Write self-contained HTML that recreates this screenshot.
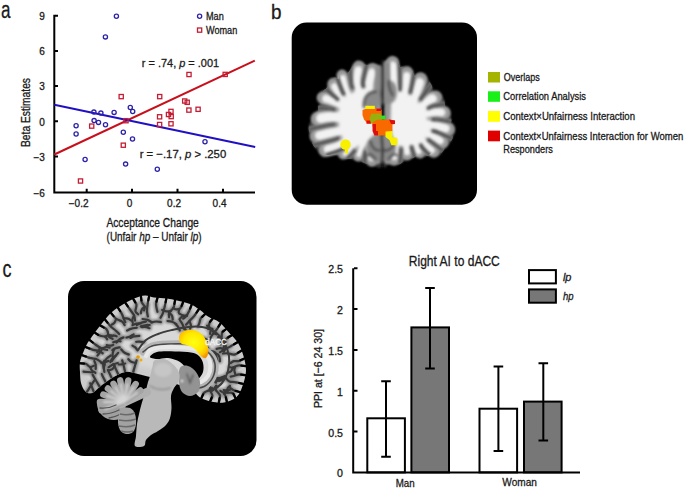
<!DOCTYPE html>
<html><head><meta charset="utf-8">
<style>
html,body{margin:0;padding:0;background:#fff;}
svg{display:block;}
text{font-family:"Liberation Sans",sans-serif;fill:#1a1a1a;stroke:#1a1a1a;stroke-width:0.3px;}
</style></head>
<body>
<svg width="685" height="489" viewBox="0 0 685 489">
<defs>
<filter id="bl1" x="-10%" y="-10%" width="120%" height="120%"><feGaussianBlur stdDeviation="0.8"/></filter>
<filter id="bl3" x="-20%" y="-20%" width="140%" height="140%"><feGaussianBlur stdDeviation="3"/></filter>
<filter id="bl15" x="-20%" y="-20%" width="140%" height="140%"><feGaussianBlur stdDeviation="1.6"/></filter>
<filter id="wm" x="-20%" y="-20%" width="140%" height="140%"><feMorphology operator="erode" radius="5"/><feGaussianBlur stdDeviation="1.8"/></filter>
<filter id="bl07" x="-20%" y="-20%" width="140%" height="140%"><feGaussianBlur stdDeviation="0.6"/></filter>
<filter id="bl04" x="-20%" y="-20%" width="140%" height="140%"><feGaussianBlur stdDeviation="0.45"/></filter>
<filter id="wmC" x="-20%" y="-20%" width="140%" height="140%"><feMorphology operator="erode" radius="7"/><feGaussianBlur stdDeviation="2.5"/></filter>
<filter id="bl2" x="-10%" y="-10%" width="120%" height="120%"><feGaussianBlur stdDeviation="1.5"/></filter>
</defs>
<rect width="685" height="489" fill="#fff"/>

<!-- ============ PANEL A ============ -->
<text x="1" y="18" font-size="23" textLength="9.5" lengthAdjust="spacingAndGlyphs">a</text>
<!-- axes -->
<g stroke="#000" stroke-width="2" fill="none">
<path d="M54.3 14.7 V192.5 H255"/>
<path d="M55 15.7 H58 M55 50.9 H58 M55 86.1 H58 M55 121.3 H58 M55 156.6 H58"/>
<path d="M86.7 192 V188.8 M132 192 V188.8 M177.5 192 V188.8 M223 192 V188.8"/>
</g>
<g font-size="10">
<text x="44.8" y="19.8" text-anchor="end">9</text>
<text x="44.8" y="54.9" text-anchor="end">6</text>
<text x="44.8" y="90.2" text-anchor="end">3</text>
<text x="44.8" y="125.5" text-anchor="end">0</text>
<text x="44.8" y="161" text-anchor="end">−3</text>
<text x="44.8" y="196.5" text-anchor="end">−6</text>
<text x="88.5" y="207.2" text-anchor="end">−0.2</text>
<text x="132.4" y="207.2" text-anchor="end">0</text>
<text x="181" y="207.2" text-anchor="end">0.2</text>
<text x="226.5" y="207.2" text-anchor="end">0.4</text>
</g>
<text x="106.4" y="227.3" font-size="12.2" textLength="92.4" lengthAdjust="spacingAndGlyphs">Acceptance Change</text>
<text x="106.6" y="241.3" font-size="12.2" textLength="95" lengthAdjust="spacingAndGlyphs">(Unfair <tspan font-style="italic">hp</tspan> – Unfair <tspan font-style="italic">lp</tspan>)</text>
<text transform="translate(30.3,147) rotate(-90)" font-size="12.2" textLength="69" lengthAdjust="spacingAndGlyphs">Beta Estimates</text>

<!-- fit lines -->
<line x1="54.3" y1="154.5" x2="254.8" y2="60.6" stroke="#c8101c" stroke-width="2"/>
<line x1="54.3" y1="104.8" x2="255.2" y2="147" stroke="#2010c4" stroke-width="2"/>

<!-- markers -->
<g fill="none" stroke="#2c22a8" stroke-width="1.3">
<circle cx="116.4" cy="16.2" r="2.1"/><circle cx="105.4" cy="36.9" r="2.1"/>
<circle cx="93.9" cy="112.1" r="2.1"/><circle cx="100.9" cy="113.1" r="2.1"/>
<circle cx="114.1" cy="112.4" r="2.1"/><circle cx="94.1" cy="120.6" r="2.1"/>
<circle cx="98.5" cy="122.4" r="2.1"/><circle cx="105.5" cy="124.8" r="2.1"/>
<circle cx="76.1" cy="125.7" r="2.1"/><circle cx="76.1" cy="134" r="2.1"/>
<circle cx="85.1" cy="159.5" r="2.1"/><circle cx="130.3" cy="107.5" r="2.1"/>
<circle cx="132.7" cy="111.5" r="2.1"/><circle cx="123.3" cy="132.2" r="2.1"/>
<circle cx="132.5" cy="139" r="2.1"/><circle cx="125.6" cy="164.1" r="2.1"/>
<circle cx="157.3" cy="169.2" r="2.1"/><circle cx="205" cy="141.7" r="2.1"/>
</g>
<g fill="none" stroke="#c41e34" stroke-width="1.3">
<rect x="119.1" y="94.5" width="4.2" height="4.2"/><rect x="157.6" y="94.5" width="4.2" height="4.2"/>
<rect x="123.9" y="118.6" width="4.2" height="4.2"/><rect x="157.5" y="114.7" width="4.2" height="4.2"/>
<rect x="157.5" y="122.4" width="4.2" height="4.2"/><rect x="166.4" y="112.4" width="4.2" height="4.2"/>
<rect x="168.9" y="109.3" width="4.2" height="4.2"/><rect x="169.1" y="114.5" width="4.2" height="4.2"/>
<rect x="168.9" y="121.7" width="4.2" height="4.2"/><rect x="182.6" y="98.9" width="4.2" height="4.2"/>
<rect x="185.1" y="100.2" width="4.2" height="4.2"/><rect x="186.8" y="108" width="4.2" height="4.2"/>
<rect x="196" y="107.2" width="4.2" height="4.2"/><rect x="186.9" y="72.4" width="4.2" height="4.2"/>
<rect x="223.1" y="72.3" width="4.2" height="4.2"/><rect x="89.6" y="124" width="4.2" height="4.2"/>
<rect x="121.2" y="143.1" width="4.2" height="4.2"/><rect x="78.4" y="178.9" width="4.2" height="4.2"/>
</g>
<!-- annotations -->
<text x="141.8" y="66.5" font-size="11.6" textLength="77.3" lengthAdjust="spacingAndGlyphs">r = .74, <tspan font-style="italic">p</tspan> = .001</text>
<text x="139.7" y="158.2" font-size="11.6" textLength="86.5" lengthAdjust="spacingAndGlyphs">r = −.17, <tspan font-style="italic">p</tspan> &gt; .250</text>
<!-- legend -->
<circle cx="199.6" cy="16.3" r="2.1" fill="none" stroke="#2c22a8" stroke-width="1.3"/>
<rect x="197.5" y="28" width="4.2" height="4.2" fill="none" stroke="#c41e34" stroke-width="1.3"/>
<text x="206" y="20.4" font-size="10.4" textLength="17.8" lengthAdjust="spacingAndGlyphs">Man</text>
<text x="206" y="34.2" font-size="10.4" textLength="31.2" lengthAdjust="spacingAndGlyphs">Woman</text>

<!-- ============ PANEL B ============ -->
<text x="271" y="19" font-size="21" textLength="10.5" lengthAdjust="spacingAndGlyphs">b</text>
<rect x="291.7" y="22.5" width="185.3" height="182.2" rx="15" fill="#000"/>
<g id="brainB"><g filter="url(#bl1)">
<path d="M381.3 68.0 C381.0 62.3 380.4 66.4 379.4 65.8 C378.3 65.2 376.6 64.5 375.0 64.3 C373.4 64.1 371.4 64.5 370.0 64.6 C368.6 64.7 367.6 65.4 366.3 65.1 C365.0 64.8 363.2 63.1 362.0 62.5 C360.8 61.9 360.3 61.5 359.3 61.6 C358.3 61.8 357.0 62.5 355.8 63.4 C354.6 64.3 353.0 65.8 352.0 67.0 C351.0 68.2 350.5 69.8 349.6 70.8 C348.7 71.8 347.6 73.0 346.6 73.0 C345.6 73.0 344.4 71.4 343.5 71.0 C342.6 70.6 341.8 70.1 341.0 70.5 C340.2 70.9 339.4 72.1 339.0 73.5 C338.6 74.9 339.3 78.3 338.6 79.0 C337.9 79.7 336.1 77.6 335.0 77.5 C333.9 77.4 333.0 77.8 332.0 78.5 C331.0 79.2 329.9 80.4 329.0 82.0 C328.1 83.6 327.7 86.5 326.6 88.0 C325.5 89.5 324.0 89.7 322.6 90.7 C321.2 91.7 319.3 92.9 318.5 94.0 C317.7 95.1 317.3 95.9 317.7 97.3 C318.1 98.7 320.5 100.7 320.6 102.2 C320.7 103.7 318.5 104.9 318.1 106.3 C317.7 107.7 318.7 108.9 318.1 110.4 C317.5 111.9 315.6 113.5 314.5 115.3 C313.4 117.1 312.1 119.2 311.2 121.0 C310.2 122.8 309.1 123.8 308.8 126.0 C308.5 128.2 308.7 130.7 309.5 134.0 C310.3 137.3 311.7 142.6 313.5 145.7 C315.3 148.8 318.4 151.1 320.5 152.7 C322.6 154.2 323.9 154.6 326.4 155.0 C328.9 155.4 332.4 154.4 335.7 155.0 C339.0 155.6 342.9 157.7 346.2 158.5 C349.5 159.3 352.5 158.9 355.6 159.7 C358.7 160.5 361.6 162.1 364.9 163.2 C368.2 164.3 372.6 166.1 375.4 166.5 C378.2 166.9 380.5 169.9 381.5 165.5 C382.5 161.1 381.6 150.9 381.5 140.0 C381.4 129.1 381.2 112.0 381.2 100.0 C381.2 88.0 381.6 73.7 381.3 68.0Z" fill="#3a3a3a"/>
<path d="M384.7 69.5 C384.9 63.3 385.4 64.8 386.0 63.0 C386.6 61.2 387.1 60.0 388.2 59.0 C389.3 58.0 391.2 56.9 392.6 56.8 C394.0 56.7 395.6 57.9 396.5 58.5 C397.4 59.1 397.3 59.1 397.9 60.5 C398.5 61.9 399.0 65.7 399.9 66.7 C400.8 67.7 401.8 66.4 403.0 66.5 C404.2 66.6 405.8 66.5 407.3 67.3 C408.8 68.0 411.0 69.4 412.2 71.0 C413.4 72.6 413.8 76.5 414.6 77.0 C415.4 77.5 415.9 74.7 417.0 74.0 C418.1 73.3 419.7 72.1 421.4 72.8 C423.1 73.5 425.3 76.1 427.0 78.3 C428.7 80.5 430.6 83.2 431.8 85.7 C433.0 88.2 433.1 91.8 434.3 93.0 C435.5 94.2 437.6 92.0 439.2 93.0 C440.8 94.0 443.0 97.0 444.0 99.2 C445.0 101.5 444.5 104.7 445.3 106.5 C446.1 108.3 448.0 108.0 449.0 110.2 C450.0 112.4 451.3 117.6 451.5 119.8 C451.7 122.0 449.9 121.7 450.3 123.5 C450.7 125.3 453.8 128.0 454.0 130.9 C454.2 133.8 452.7 138.2 451.5 140.7 C450.3 143.1 448.2 143.5 446.6 145.6 C445.0 147.7 443.3 151.4 441.7 153.0 C440.1 154.6 438.2 155.6 436.8 155.4 C435.4 155.2 434.5 151.7 433.1 151.7 C431.7 151.7 430.1 154.6 428.2 155.4 C426.3 156.2 423.8 156.7 422.0 156.6 C420.2 156.5 418.6 154.6 417.2 154.8 C415.8 155.0 415.1 157.2 413.5 157.9 C411.9 158.6 409.6 158.1 407.4 159.1 C405.1 160.1 402.3 163.1 400.0 164.0 C397.7 164.9 395.5 164.3 393.5 164.5 C391.5 164.7 389.7 164.9 388.0 165.0 C386.3 165.1 384.2 170.8 383.5 165.0 C382.8 159.2 383.6 140.8 383.8 130.0 C384.0 119.2 384.4 110.1 384.5 100.0 C384.6 89.9 384.4 75.7 384.7 69.5Z" fill="#3a3a3a"/>
</g>
<g filter="url(#bl1)" fill="#969696" stroke="#969696" stroke-linecap="round" stroke-linejoin="round">
<path d="M370.0 92.0 C368.0 88.7 363.7 89.0 360.0 90.0 C356.3 91.0 351.3 94.7 348.0 98.0 C344.7 101.3 341.3 105.5 340.0 110.0 C338.7 114.5 339.3 120.3 340.0 125.0 C340.7 129.7 341.3 134.8 344.0 138.0 C346.7 141.2 351.7 143.0 356.0 144.0 C360.3 145.0 367.0 146.3 370.0 144.0 C373.0 141.7 373.7 135.7 374.0 130.0 C374.3 124.3 372.7 116.3 372.0 110.0 C371.3 103.7 372.0 95.3 370.0 92.0Z" stroke-width="8"/>
<path d="M392.0 84.0 C393.7 81.5 398.3 87.3 402.0 90.0 C405.7 92.7 410.3 96.3 414.0 100.0 C417.7 103.7 422.0 107.7 424.0 112.0 C426.0 116.3 426.0 121.7 426.0 126.0 C426.0 130.3 426.3 135.0 424.0 138.0 C421.7 141.0 416.3 143.0 412.0 144.0 C407.7 145.0 401.3 146.3 398.0 144.0 C394.7 141.7 393.0 136.5 392.0 130.0 C391.0 123.5 392.0 112.7 392.0 105.0 C392.0 97.3 390.3 86.5 392.0 84.0Z" stroke-width="8"/>
<path d="M368.0 98.0 C368.2 95.3 368.2 86.7 369.0 82.0 C369.8 77.3 372.1 72.1 372.7 70.1" fill="none" stroke-width="14"/>
<path d="M360.0 95.0 C359.5 92.5 357.2 84.6 357.0 80.0 C356.8 75.4 358.5 69.3 358.8 67.1" fill="none" stroke-width="13"/>
<path d="M350.0 100.0 C349.2 97.7 346.3 90.2 345.0 86.0 C343.7 81.8 342.5 76.9 342.0 75.1" fill="none" stroke-width="11"/>
<path d="M345.0 104.0 C343.8 102.2 339.9 96.4 338.0 93.0 C336.1 89.6 334.2 85.4 333.4 83.9" fill="none" stroke-width="12"/>
<path d="M342.0 105.0 C340.2 104.2 334.1 101.2 331.0 100.0 C327.9 98.8 324.5 98.2 323.2 97.9" fill="none" stroke-width="13"/>
<path d="M343.0 117.0 C340.5 117.0 332.1 116.7 328.0 117.0 C323.9 117.3 319.8 118.5 318.1 118.8" fill="none" stroke-width="15"/>
<path d="M345.0 130.0 C342.5 130.5 334.7 132.0 330.0 133.0 C325.3 134.0 318.8 135.6 316.6 136.2" fill="none" stroke-width="14"/>
<path d="M350.0 140.0 C347.7 141.2 340.1 145.3 336.0 147.0 C331.9 148.7 327.1 149.6 325.3 150.1" fill="none" stroke-width="14"/>
<path d="M355.0 145.0 C353.5 146.3 348.0 151.4 346.0 153.0 C344.0 154.6 343.5 154.2 343.1 154.5" fill="none" stroke-width="10"/>
<path d="M362.0 146.0 C361.5 147.3 359.7 152.3 359.0 154.0 C358.3 155.7 358.2 156.0 358.1 156.4" fill="none" stroke-width="10"/>
<path d="M370.0 146.0 C370.2 147.5 370.7 152.5 371.0 155.0 C371.3 157.5 371.7 160.1 371.9 161.1" fill="none" stroke-width="11"/>
<path d="M396.0 105.0 C395.7 101.2 394.6 89.1 394.0 82.0 C393.4 74.9 392.8 65.8 392.5 62.5" fill="none" stroke-width="13"/>
<path d="M404.0 100.0 C404.3 97.3 405.5 88.5 406.0 84.0 C406.5 79.5 406.8 74.7 406.9 72.8" fill="none" stroke-width="13"/>
<path d="M412.0 105.0 C412.8 102.5 415.6 94.3 417.0 90.0 C418.4 85.7 419.9 81.2 420.5 79.5" fill="none" stroke-width="14"/>
<path d="M418.0 110.0 C420.0 108.3 427.1 102.1 430.0 100.0 C432.9 97.9 434.3 97.8 435.2 97.4" fill="none" stroke-width="14"/>
<path d="M422.0 114.0 C424.3 113.7 432.3 112.2 436.0 112.0 C439.7 111.8 442.9 112.6 444.3 112.8" fill="none" stroke-width="13"/>
<path d="M424.0 124.0 C426.7 124.5 436.0 126.1 440.0 127.0 C444.0 127.9 446.8 128.9 448.2 129.2" fill="none" stroke-width="14"/>
<path d="M424.0 132.0 C426.0 133.0 432.9 136.3 436.0 138.0 C439.1 139.7 441.3 141.5 442.3 142.2" fill="none" stroke-width="13"/>
<path d="M420.0 138.0 C421.3 139.5 425.7 144.7 428.0 147.0 C430.3 149.3 432.8 151.0 433.8 151.8" fill="none" stroke-width="12"/>
<path d="M414.0 140.0 C414.7 141.7 417.0 147.9 418.0 150.0 C419.0 152.1 419.5 152.0 419.8 152.4" fill="none" stroke-width="12"/>
<path d="M406.0 142.0 C406.2 143.5 406.8 148.9 407.0 151.0 C407.2 153.1 407.0 153.8 407.0 154.4" fill="none" stroke-width="12"/>
<path d="M396.0 144.0 C395.8 145.7 395.3 151.3 395.0 154.0 C394.7 156.7 394.2 159.1 394.0 160.1" fill="none" stroke-width="11"/>
<path d="M377.5 70.0 C377.4 75.0 377.1 90.0 377.0 100.0 C376.9 110.0 377.0 120.0 377.0 130.0 C377.0 140.0 377.0 155.0 377.0 160.0" fill="none" stroke-width="8"/>
<path d="M388.0 64.0 C388.1 70.0 388.4 89.0 388.5 100.0 C388.6 111.0 388.6 120.0 388.5 130.0 C388.4 140.0 388.1 155.0 388.0 160.0" fill="none" stroke-width="8"/>
</g>
<g filter="url(#bl15)" fill="#f2f2f2" stroke="#f2f2f2" stroke-linecap="round" stroke-linejoin="round">
<path d="M370.0 92.0 C368.0 88.7 363.7 89.0 360.0 90.0 C356.3 91.0 351.3 94.7 348.0 98.0 C344.7 101.3 341.3 105.5 340.0 110.0 C338.7 114.5 339.3 120.3 340.0 125.0 C340.7 129.7 341.3 134.8 344.0 138.0 C346.7 141.2 351.7 143.0 356.0 144.0 C360.3 145.0 367.0 146.3 370.0 144.0 C373.0 141.7 373.7 135.7 374.0 130.0 C374.3 124.3 372.7 116.3 372.0 110.0 C371.3 103.7 372.0 95.3 370.0 92.0Z" stroke-width="2"/>
<path d="M392.0 84.0 C393.7 81.5 398.3 87.3 402.0 90.0 C405.7 92.7 410.3 96.3 414.0 100.0 C417.7 103.7 422.0 107.7 424.0 112.0 C426.0 116.3 426.0 121.7 426.0 126.0 C426.0 130.3 426.3 135.0 424.0 138.0 C421.7 141.0 416.3 143.0 412.0 144.0 C407.7 145.0 401.3 146.3 398.0 144.0 C394.7 141.7 393.0 136.5 392.0 130.0 C391.0 123.5 392.0 112.7 392.0 105.0 C392.0 97.3 390.3 86.5 392.0 84.0Z" stroke-width="2"/>
<path d="M368.0 98.0 C368.2 95.3 368.4 86.2 369.0 82.0 C369.6 77.8 371.3 74.5 371.8 73.0" fill="none" stroke-width="9.5"/>
<path d="M360.0 95.0 C359.5 92.5 357.3 84.1 357.0 80.0 C356.7 75.9 358.2 71.8 358.4 70.2" fill="none" stroke-width="8.5"/>
<path d="M350.0 100.0 C349.2 97.7 346.2 89.7 345.0 86.0 C343.8 82.3 343.2 79.4 342.8 78.0" fill="none" stroke-width="6.5"/>
<path d="M345.0 104.0 C343.8 102.2 339.7 95.9 338.0 93.0 C336.3 90.1 335.3 87.7 334.8 86.6" fill="none" stroke-width="7.5"/>
<path d="M342.0 105.0 C340.2 104.2 333.6 101.1 331.0 100.0 C328.4 98.9 327.0 98.9 326.2 98.7" fill="none" stroke-width="8.5"/>
<path d="M343.0 117.0 C340.5 117.0 331.6 116.8 328.0 117.0 C324.4 117.2 322.3 118.1 321.1 118.3" fill="none" stroke-width="10.5"/>
<path d="M345.0 130.0 C342.5 130.5 334.2 132.1 330.0 133.0 C325.8 133.9 321.3 135.1 319.5 135.5" fill="none" stroke-width="9.5"/>
<path d="M350.0 140.0 C347.7 141.2 339.6 145.5 336.0 147.0 C332.4 148.5 329.5 148.9 328.2 149.2" fill="none" stroke-width="9.5"/>
<path d="M355.0 145.0 C353.5 146.3 347.5 151.6 346.0 153.0 C344.5 154.4 345.8 153.1 345.8 153.1" fill="none" stroke-width="5.5"/>
<path d="M362.0 146.0 C361.5 147.3 359.5 152.7 359.0 154.0 C358.5 155.3 359.0 154.0 359.0 154.0" fill="none" stroke-width="5.5"/>
<path d="M370.0 146.0 C370.2 147.5 370.8 153.0 371.0 155.0 C371.2 157.0 371.4 157.6 371.4 158.1" fill="none" stroke-width="6.5"/>
<path d="M396.0 105.0 C395.7 101.2 394.5 88.6 394.0 82.0 C393.5 75.4 393.0 68.3 392.8 65.6" fill="none" stroke-width="8.5"/>
<path d="M404.0 100.0 C404.3 97.3 405.6 88.0 406.0 84.0 C406.4 80.0 406.6 77.2 406.7 75.9" fill="none" stroke-width="8.5"/>
<path d="M412.0 105.0 C412.8 102.5 415.7 93.8 417.0 90.0 C418.3 86.2 419.1 83.6 419.5 82.4" fill="none" stroke-width="9.5"/>
<path d="M418.0 110.0 C420.0 108.3 427.6 101.9 430.0 100.0 C432.4 98.1 432.0 99.0 432.4 98.8" fill="none" stroke-width="9.5"/>
<path d="M422.0 114.0 C424.3 113.7 432.8 112.3 436.0 112.0 C439.2 111.7 440.4 112.4 441.3 112.5" fill="none" stroke-width="8.5"/>
<path d="M424.0 124.0 C426.7 124.5 436.5 126.3 440.0 127.0 C443.5 127.7 444.4 128.2 445.2 128.4" fill="none" stroke-width="9.5"/>
<path d="M424.0 132.0 C426.0 133.0 433.4 136.6 436.0 138.0 C438.6 139.4 439.2 140.1 439.8 140.5" fill="none" stroke-width="8.5"/>
<path d="M420.0 138.0 C421.3 139.5 426.1 145.0 428.0 147.0 C429.9 149.0 430.9 149.4 431.4 149.9" fill="none" stroke-width="7.5"/>
<path d="M414.0 140.0 C414.7 141.7 417.3 148.3 418.0 150.0 C418.7 151.7 418.0 150.0 418.0 150.0" fill="none" stroke-width="7.5"/>
<path d="M406.0 142.0 C406.2 143.5 406.8 149.4 407.0 151.0 C407.2 152.6 407.0 151.3 407.0 151.3" fill="none" stroke-width="7.5"/>
<path d="M396.0 144.0 C395.8 145.7 395.3 151.8 395.0 154.0 C394.7 156.2 394.6 156.6 394.5 157.1" fill="none" stroke-width="6.5"/>
</g>
<clipPath id="silB"><path d="M381.3 68.0 C381.0 62.3 380.4 66.4 379.4 65.8 C378.3 65.2 376.6 64.5 375.0 64.3 C373.4 64.1 371.4 64.5 370.0 64.6 C368.6 64.7 367.6 65.4 366.3 65.1 C365.0 64.8 363.2 63.1 362.0 62.5 C360.8 61.9 360.3 61.5 359.3 61.6 C358.3 61.8 357.0 62.5 355.8 63.4 C354.6 64.3 353.0 65.8 352.0 67.0 C351.0 68.2 350.5 69.8 349.6 70.8 C348.7 71.8 347.6 73.0 346.6 73.0 C345.6 73.0 344.4 71.4 343.5 71.0 C342.6 70.6 341.8 70.1 341.0 70.5 C340.2 70.9 339.4 72.1 339.0 73.5 C338.6 74.9 339.3 78.3 338.6 79.0 C337.9 79.7 336.1 77.6 335.0 77.5 C333.9 77.4 333.0 77.8 332.0 78.5 C331.0 79.2 329.9 80.4 329.0 82.0 C328.1 83.6 327.7 86.5 326.6 88.0 C325.5 89.5 324.0 89.7 322.6 90.7 C321.2 91.7 319.3 92.9 318.5 94.0 C317.7 95.1 317.3 95.9 317.7 97.3 C318.1 98.7 320.5 100.7 320.6 102.2 C320.7 103.7 318.5 104.9 318.1 106.3 C317.7 107.7 318.7 108.9 318.1 110.4 C317.5 111.9 315.6 113.5 314.5 115.3 C313.4 117.1 312.1 119.2 311.2 121.0 C310.2 122.8 309.1 123.8 308.8 126.0 C308.5 128.2 308.7 130.7 309.5 134.0 C310.3 137.3 311.7 142.6 313.5 145.7 C315.3 148.8 318.4 151.1 320.5 152.7 C322.6 154.2 323.9 154.6 326.4 155.0 C328.9 155.4 332.4 154.4 335.7 155.0 C339.0 155.6 342.9 157.7 346.2 158.5 C349.5 159.3 352.5 158.9 355.6 159.7 C358.7 160.5 361.6 162.1 364.9 163.2 C368.2 164.3 372.6 166.1 375.4 166.5 C378.2 166.9 380.5 169.9 381.5 165.5 C382.5 161.1 381.6 150.9 381.5 140.0 C381.4 129.1 381.2 112.0 381.2 100.0 C381.2 88.0 381.6 73.7 381.3 68.0Z"/><path d="M384.7 69.5 C384.9 63.3 385.4 64.8 386.0 63.0 C386.6 61.2 387.1 60.0 388.2 59.0 C389.3 58.0 391.2 56.9 392.6 56.8 C394.0 56.7 395.6 57.9 396.5 58.5 C397.4 59.1 397.3 59.1 397.9 60.5 C398.5 61.9 399.0 65.7 399.9 66.7 C400.8 67.7 401.8 66.4 403.0 66.5 C404.2 66.6 405.8 66.5 407.3 67.3 C408.8 68.0 411.0 69.4 412.2 71.0 C413.4 72.6 413.8 76.5 414.6 77.0 C415.4 77.5 415.9 74.7 417.0 74.0 C418.1 73.3 419.7 72.1 421.4 72.8 C423.1 73.5 425.3 76.1 427.0 78.3 C428.7 80.5 430.6 83.2 431.8 85.7 C433.0 88.2 433.1 91.8 434.3 93.0 C435.5 94.2 437.6 92.0 439.2 93.0 C440.8 94.0 443.0 97.0 444.0 99.2 C445.0 101.5 444.5 104.7 445.3 106.5 C446.1 108.3 448.0 108.0 449.0 110.2 C450.0 112.4 451.3 117.6 451.5 119.8 C451.7 122.0 449.9 121.7 450.3 123.5 C450.7 125.3 453.8 128.0 454.0 130.9 C454.2 133.8 452.7 138.2 451.5 140.7 C450.3 143.1 448.2 143.5 446.6 145.6 C445.0 147.7 443.3 151.4 441.7 153.0 C440.1 154.6 438.2 155.6 436.8 155.4 C435.4 155.2 434.5 151.7 433.1 151.7 C431.7 151.7 430.1 154.6 428.2 155.4 C426.3 156.2 423.8 156.7 422.0 156.6 C420.2 156.5 418.6 154.6 417.2 154.8 C415.8 155.0 415.1 157.2 413.5 157.9 C411.9 158.6 409.6 158.1 407.4 159.1 C405.1 160.1 402.3 163.1 400.0 164.0 C397.7 164.9 395.5 164.3 393.5 164.5 C391.5 164.7 389.7 164.9 388.0 165.0 C386.3 165.1 384.2 170.8 383.5 165.0 C382.8 159.2 383.6 140.8 383.8 130.0 C384.0 119.2 384.4 110.1 384.5 100.0 C384.6 89.9 384.4 75.7 384.7 69.5Z"/></clipPath>
<g clip-path="url(#silB)">
<g filter="url(#bl15)" stroke="#969696" stroke-width="4.5" fill="none" stroke-linecap="round">
<path d="M367.8 59.8 C367.0 63.3 363.7 76.6 363.0 81.0 C362.3 85.4 363.3 85.5 363.4 86.4"/>
<path d="M350.1 63.1 C350.2 66.5 350.6 78.8 351.0 83.0 C351.4 87.2 352.2 87.2 352.4 88.1"/>
<path d="M335.0 72.4 C336.1 75.2 340.1 85.9 341.5 89.5 C342.9 93.1 343.2 93.1 343.6 93.9"/>
<path d="M322.7 86.3 C324.6 88.0 332.0 94.3 334.5 96.5 C337.0 98.7 337.1 98.8 337.6 99.3"/>
<path d="M312.1 108.2 C315.0 108.2 325.8 108.3 329.5 108.5 C333.2 108.7 333.3 109.2 334.1 109.4"/>
<path d="M308.0 129.5 C311.5 128.7 324.6 125.8 329.0 125.0 C333.4 124.2 333.4 124.6 334.2 124.5"/>
<path d="M311.9 145.5 C315.4 144.6 328.6 141.2 333.0 140.0 C337.4 138.8 337.2 138.5 338.1 138.2"/>
<path d="M327.2 154.8 C329.5 154.0 338.0 151.2 341.0 150.0 C344.0 148.8 344.4 147.8 345.0 147.4"/>
<path d="M347.0 159.3 C347.9 158.3 351.2 154.9 352.5 153.5 C353.8 152.1 354.2 151.2 354.6 150.7"/>
<path d="M364.4 164.6 C364.5 162.9 364.8 156.7 365.0 154.5 C365.2 152.3 365.3 152.0 365.4 151.5"/>
<path d="M399.7 58.5 C399.8 62.6 400.0 77.8 400.0 83.0 C400.0 88.2 400.0 88.7 400.0 89.8"/>
<path d="M415.5 67.6 C414.8 70.8 412.4 82.9 411.5 87.0 C410.6 91.1 410.5 91.5 410.3 92.4"/>
<path d="M433.0 82.2 C431.4 84.4 425.6 92.1 423.5 95.0 C421.4 97.9 421.0 98.6 420.5 99.4"/>
<path d="M447.5 103.6 C445.1 104.0 436.2 105.2 433.0 106.0 C429.8 106.8 429.2 107.8 428.4 108.1"/>
<path d="M454.5 122.5 C451.8 122.0 441.6 120.0 438.0 119.5 C434.4 119.0 433.6 119.4 432.8 119.3"/>
<path d="M452.8 139.1 C450.3 138.0 441.3 133.9 438.0 132.5 C434.7 131.1 433.9 131.2 433.1 130.9"/>
<path d="M444.3 151.6 C442.2 150.1 434.6 144.5 432.0 142.5 C429.4 140.5 429.1 140.3 428.5 139.9"/>
<path d="M431.7 157.2 C430.2 155.8 424.8 150.5 423.0 148.5 C421.2 146.5 421.2 145.7 420.9 145.2"/>
<path d="M415.4 159.5 C415.0 158.0 413.1 152.6 412.5 150.5 C411.9 148.4 411.8 147.7 411.6 147.2"/>
<path d="M399.9 163.9 C400.1 162.0 400.8 155.0 401.0 152.5 C401.2 150.0 401.0 149.7 401.0 149.2"/>
</g>
<g filter="url(#bl1)" stroke="#444444" stroke-width="2.2" fill="none" stroke-linecap="round">
<path d="M367.8 59.8 C367.0 63.3 363.7 76.6 363.0 81.0 C362.3 85.4 363.3 85.5 363.4 86.4"/>
<path d="M350.1 63.1 C350.2 66.5 350.6 78.8 351.0 83.0 C351.4 87.2 352.2 87.2 352.4 88.1"/>
<path d="M335.0 72.4 C336.1 75.2 340.1 85.9 341.5 89.5 C342.9 93.1 343.2 93.1 343.6 93.9"/>
<path d="M322.7 86.3 C324.6 88.0 332.0 94.3 334.5 96.5 C337.0 98.7 337.1 98.8 337.6 99.3"/>
<path d="M312.1 108.2 C315.0 108.2 325.8 108.3 329.5 108.5 C333.2 108.7 333.3 109.2 334.1 109.4"/>
<path d="M308.0 129.5 C311.5 128.7 324.6 125.8 329.0 125.0 C333.4 124.2 333.4 124.6 334.2 124.5"/>
<path d="M311.9 145.5 C315.4 144.6 328.6 141.2 333.0 140.0 C337.4 138.8 337.2 138.5 338.1 138.2"/>
<path d="M327.2 154.8 C329.5 154.0 338.0 151.2 341.0 150.0 C344.0 148.8 344.4 147.8 345.0 147.4"/>
<path d="M347.0 159.3 C347.9 158.3 351.2 154.9 352.5 153.5 C353.8 152.1 354.2 151.2 354.6 150.7"/>
<path d="M364.4 164.6 C364.5 162.9 364.8 156.7 365.0 154.5 C365.2 152.3 365.3 152.0 365.4 151.5"/>
<path d="M399.7 58.5 C399.8 62.6 400.0 77.8 400.0 83.0 C400.0 88.2 400.0 88.7 400.0 89.8"/>
<path d="M415.5 67.6 C414.8 70.8 412.4 82.9 411.5 87.0 C410.6 91.1 410.5 91.5 410.3 92.4"/>
<path d="M433.0 82.2 C431.4 84.4 425.6 92.1 423.5 95.0 C421.4 97.9 421.0 98.6 420.5 99.4"/>
<path d="M447.5 103.6 C445.1 104.0 436.2 105.2 433.0 106.0 C429.8 106.8 429.2 107.8 428.4 108.1"/>
<path d="M454.5 122.5 C451.8 122.0 441.6 120.0 438.0 119.5 C434.4 119.0 433.6 119.4 432.8 119.3"/>
<path d="M452.8 139.1 C450.3 138.0 441.3 133.9 438.0 132.5 C434.7 131.1 433.9 131.2 433.1 130.9"/>
<path d="M444.3 151.6 C442.2 150.1 434.6 144.5 432.0 142.5 C429.4 140.5 429.1 140.3 428.5 139.9"/>
<path d="M431.7 157.2 C430.2 155.8 424.8 150.5 423.0 148.5 C421.2 146.5 421.2 145.7 420.9 145.2"/>
<path d="M415.4 159.5 C415.0 158.0 413.1 152.6 412.5 150.5 C411.9 148.4 411.8 147.7 411.6 147.2"/>
<path d="M399.9 163.9 C400.1 162.0 400.8 155.0 401.0 152.5 C401.2 150.0 401.0 149.7 401.0 149.2"/>
</g>
</g>
<g filter="url(#bl15)">
<path d="M378.5 66 V104" stroke="#8a8a8a" stroke-width="6" fill="none"/>
<path d="M387 62 V104" stroke="#8a8a8a" stroke-width="6" fill="none"/>
<ellipse cx="372" cy="101" rx="8" ry="9" fill="#8a8a8a"/>
<ellipse cx="391" cy="92" rx="6" ry="11" fill="#8a8a8a"/>
<ellipse cx="381" cy="148" rx="15" ry="14" fill="#8a8a8a"/>
<path d="M364 108 C363 98 368 91 377 92" stroke="#3a3a3a" stroke-width="2.2" fill="none"/>
<path d="M389 80 C388 86 390 90 393 96" stroke="#3a3a3a" stroke-width="2.2" fill="none"/>
<path d="M370 140 C372 148 376 152 380 150 M395 140 C393 148 389 152 384 150 M366 156 C370 152 374 156 376 160 M398 156 C394 152 390 156 388 160" stroke="#3a3a3a" stroke-width="2" fill="none"/>
<path d="M382.5 60 C381.5 70 383.5 80 382 90 C381 96 383 100 382.5 106 M382 130 C381 140 383.5 150 382 160 L382.5 167" stroke="#1a1a1a" stroke-width="2.4" fill="none"/>
</g>
<g filter="url(#bl04)">
<polygon points="362.5,110 366,108.8 377,108.5 381.5,110 382,121 378,123 367,123 364,119.5 362.5,115" fill="#f86a00"/>
<polygon points="366.5,120.5 371,120.5 371,123.8 366.5,123.8" fill="#e01010"/>
<polygon points="376.5,108.6 381,108.6 381,111 376.5,111" fill="#e01010"/>
<polygon points="371.5,113.8 380,113.5 381.8,116 381.8,123.8 371,123.8 369.6,118" fill="#98b010"/>
<rect x="381" y="115.6" width="4.4" height="4" fill="#22e822"/>
<polygon points="372.5,122 378,119.6 389,119.4 395,120.5 395,124 392.4,124.5 392.4,131 388.5,135.5 378,135.5 374,131 372.5,126" fill="#f86a00"/>
<polygon points="372.5,124 376,124 376,131 378,131 378,135.5 374.5,135.5 372.5,131" fill="#e01010"/>
<polygon points="389,119.4 395,120.5 395,124 391,124" fill="#e01010"/>
<polygon points="385.5,131.5 392.4,131 392.4,137.3 397.3,137.8 397.3,145.2 391.5,145.2 389.4,140 385.5,137" fill="#f8f000"/>
<rect x="365.4" y="105.8" width="9.4" height="3.2" fill="#f8f000"/>
<circle cx="345.5" cy="144.5" r="5.2" fill="#f8f000"/>
<rect x="345" y="147" width="3" height="6.5" fill="#f8f000"/>
</g></g><!--/brainB-->
<!-- legend b -->
<rect x="488" y="72" width="12" height="10.5" fill="#a4b400"/>
<rect x="488" y="91.3" width="12" height="10.5" fill="#18f018"/>
<rect x="488" y="111" width="12" height="10.8" fill="#ffff00"/>
<rect x="488" y="130.6" width="12" height="10.7" fill="#e00000"/>
<g font-size="10.8">
<text x="503.7" y="80.8" textLength="36.1" lengthAdjust="spacingAndGlyphs">Overlaps</text>
<text x="503.3" y="100.3" textLength="82.7" lengthAdjust="spacingAndGlyphs">Correlation Analysis</text>
<text x="503.3" y="120.4" textLength="131.7" lengthAdjust="spacingAndGlyphs">Context×Unfairness Interaction</text>
<text x="503.3" y="139.9" textLength="180" lengthAdjust="spacingAndGlyphs">Context×Unfairness Interaction for Women</text>
<text x="503.3" y="152.6" textLength="49.5" lengthAdjust="spacingAndGlyphs">Responders</text>
</g>

<!-- ============ PANEL C ============ -->
<text x="2.5" y="277.3" font-size="23" textLength="9" lengthAdjust="spacingAndGlyphs">c</text>
<rect x="68" y="281" width="188.5" height="175" rx="16" fill="#000"/>
<g id="brainC"><g filter="url(#bl07)">
<path d="M80.0 372.0 C79.8 368.5 79.5 365.2 80.0 362.0 C80.5 358.8 81.8 356.0 83.0 353.0 C84.2 350.0 85.7 346.5 87.0 344.0 C88.3 341.5 89.5 340.2 91.0 338.0 C92.5 335.8 94.0 333.7 96.0 331.0 C98.0 328.3 100.3 325.2 103.0 322.0 C105.7 318.8 108.8 314.8 112.0 312.0 C115.2 309.2 118.3 307.2 122.0 305.0 C125.7 302.8 130.2 300.1 134.0 298.5 C137.8 296.9 141.7 295.7 145.0 295.5 C148.3 295.3 150.3 297.0 154.0 297.5 C157.7 298.0 163.2 298.0 167.0 298.5 C170.8 299.0 173.2 299.6 177.0 300.5 C180.8 301.4 186.2 302.4 190.0 304.0 C193.8 305.6 197.0 307.9 200.0 310.0 C203.0 312.1 204.7 314.4 208.0 316.5 C211.3 318.6 215.9 319.5 219.6 322.4 C223.3 325.3 226.9 330.3 230.0 333.7 C233.1 337.1 235.8 339.3 238.0 343.0 C240.2 346.7 242.2 351.3 243.5 356.0 C244.8 360.7 246.2 366.0 246.0 371.0 C245.8 376.0 244.1 381.7 242.5 386.0 C240.9 390.3 239.6 394.2 236.5 397.0 C233.4 399.8 228.2 401.8 224.0 402.5 C219.8 403.2 215.0 402.3 211.0 401.5 C207.0 400.7 202.8 399.2 200.0 397.5 C197.2 395.8 196.0 393.2 194.0 391.0 C192.0 388.8 190.3 385.0 188.0 384.0 C185.7 383.0 183.8 385.7 180.0 385.0 C176.2 384.3 170.0 381.3 165.0 380.0 C160.0 378.7 154.5 378.0 150.0 377.0 C145.5 376.0 142.2 374.8 138.0 374.0 C133.8 373.2 129.3 371.3 125.0 372.0 C120.7 372.7 115.8 375.8 112.0 378.0 C108.2 380.2 105.3 382.5 102.0 385.0 C98.7 387.5 94.8 392.0 92.0 393.0 C89.2 394.0 86.8 392.7 85.0 391.0 C83.2 389.3 81.8 386.2 81.0 383.0 C80.2 379.8 80.2 375.5 80.0 372.0Z" fill="#cccccc"/>
</g>
<g filter="url(#wmC)">
<path d="M80.0 372.0 C79.8 368.5 79.5 365.2 80.0 362.0 C80.5 358.8 81.8 356.0 83.0 353.0 C84.2 350.0 85.7 346.5 87.0 344.0 C88.3 341.5 89.5 340.2 91.0 338.0 C92.5 335.8 94.0 333.7 96.0 331.0 C98.0 328.3 100.3 325.2 103.0 322.0 C105.7 318.8 108.8 314.8 112.0 312.0 C115.2 309.2 118.3 307.2 122.0 305.0 C125.7 302.8 130.2 300.1 134.0 298.5 C137.8 296.9 141.7 295.7 145.0 295.5 C148.3 295.3 150.3 297.0 154.0 297.5 C157.7 298.0 163.2 298.0 167.0 298.5 C170.8 299.0 173.2 299.6 177.0 300.5 C180.8 301.4 186.2 302.4 190.0 304.0 C193.8 305.6 197.0 307.9 200.0 310.0 C203.0 312.1 204.7 314.4 208.0 316.5 C211.3 318.6 215.9 319.5 219.6 322.4 C223.3 325.3 226.9 330.3 230.0 333.7 C233.1 337.1 235.8 339.3 238.0 343.0 C240.2 346.7 242.2 351.3 243.5 356.0 C244.8 360.7 246.2 366.0 246.0 371.0 C245.8 376.0 244.1 381.7 242.5 386.0 C240.9 390.3 239.6 394.2 236.5 397.0 C233.4 399.8 228.2 401.8 224.0 402.5 C219.8 403.2 215.0 402.3 211.0 401.5 C207.0 400.7 202.8 399.2 200.0 397.5 C197.2 395.8 196.0 393.2 194.0 391.0 C192.0 388.8 190.3 385.0 188.0 384.0 C185.7 383.0 183.8 385.7 180.0 385.0 C176.2 384.3 170.0 381.3 165.0 380.0 C160.0 378.7 154.5 378.0 150.0 377.0 C145.5 376.0 142.2 374.8 138.0 374.0 C133.8 373.2 129.3 371.3 125.0 372.0 C120.7 372.7 115.8 375.8 112.0 378.0 C108.2 380.2 105.3 382.5 102.0 385.0 C98.7 387.5 94.8 392.0 92.0 393.0 C89.2 394.0 86.8 392.7 85.0 391.0 C83.2 389.3 81.8 386.2 81.0 383.0 C80.2 379.8 80.2 375.5 80.0 372.0Z" fill="#d8d8d8"/>
</g>
<clipPath id="silC2"><path d="M80.0 372.0 C79.8 368.5 79.5 365.2 80.0 362.0 C80.5 358.8 81.8 356.0 83.0 353.0 C84.2 350.0 85.7 346.5 87.0 344.0 C88.3 341.5 89.5 340.2 91.0 338.0 C92.5 335.8 94.0 333.7 96.0 331.0 C98.0 328.3 100.3 325.2 103.0 322.0 C105.7 318.8 108.8 314.8 112.0 312.0 C115.2 309.2 118.3 307.2 122.0 305.0 C125.7 302.8 130.2 300.1 134.0 298.5 C137.8 296.9 141.7 295.7 145.0 295.5 C148.3 295.3 150.3 297.0 154.0 297.5 C157.7 298.0 163.2 298.0 167.0 298.5 C170.8 299.0 173.2 299.6 177.0 300.5 C180.8 301.4 186.2 302.4 190.0 304.0 C193.8 305.6 197.0 307.9 200.0 310.0 C203.0 312.1 204.7 314.4 208.0 316.5 C211.3 318.6 215.9 319.5 219.6 322.4 C223.3 325.3 226.9 330.3 230.0 333.7 C233.1 337.1 235.8 339.3 238.0 343.0 C240.2 346.7 242.2 351.3 243.5 356.0 C244.8 360.7 246.2 366.0 246.0 371.0 C245.8 376.0 244.1 381.7 242.5 386.0 C240.9 390.3 239.6 394.2 236.5 397.0 C233.4 399.8 228.2 401.8 224.0 402.5 C219.8 403.2 215.0 402.3 211.0 401.5 C207.0 400.7 202.8 399.2 200.0 397.5 C197.2 395.8 196.0 393.2 194.0 391.0 C192.0 388.8 190.3 385.0 188.0 384.0 C185.7 383.0 183.8 385.7 180.0 385.0 C176.2 384.3 170.0 381.3 165.0 380.0 C160.0 378.7 154.5 378.0 150.0 377.0 C145.5 376.0 142.2 374.8 138.0 374.0 C133.8 373.2 129.3 371.3 125.0 372.0 C120.7 372.7 115.8 375.8 112.0 378.0 C108.2 380.2 105.3 382.5 102.0 385.0 C98.7 387.5 94.8 392.0 92.0 393.0 C89.2 394.0 86.8 392.7 85.0 391.0 C83.2 389.3 81.8 386.2 81.0 383.0 C80.2 379.8 80.2 375.5 80.0 372.0Z"/></clipPath>
<g clip-path="url(#silC2)"><g filter="url(#bl1)" stroke="#8c8c8c" stroke-width="5" fill="none" stroke-linecap="round" stroke-linejoin="round">
<path d="M85.6 363.8 C86.4 364.3 88.7 366.7 90.1 367.0 C91.5 367.3 93.2 366.0 93.8 365.8"/>
<path d="M90.1 367.0 C90.4 367.6 91.2 369.8 92.1 370.8 C93.0 371.8 94.8 372.4 95.4 372.8"/>
<path d="M104.4 371.9 C104.3 371.3 103.8 369.2 103.9 367.9 C104.0 366.6 104.7 364.7 104.9 364.0"/>
<path d="M89.8 357.9 C91.0 358.1 94.9 358.5 96.7 359.3 C98.6 360.0 100.3 361.7 101.0 362.2"/>
<path d="M108.6 367.2 C109.3 366.8 111.0 365.5 112.5 364.8 C114.0 364.1 116.9 363.3 117.8 363.0"/>
<path d="M103.7 368.3 C103.6 367.6 103.1 365.6 103.2 364.4 C103.3 363.1 104.1 361.5 104.2 360.9"/>
<path d="M92.4 349.6 C93.5 349.8 97.1 350.3 98.8 350.9 C100.5 351.5 102.0 352.9 102.7 353.3"/>
<path d="M97.2 352.3 C97.5 352.0 98.7 351.0 99.1 350.2 C99.5 349.4 99.5 347.9 99.6 347.5"/>
<path d="M110.3 362.0 C110.6 361.4 111.5 359.4 112.5 358.3 C113.5 357.3 115.5 355.9 116.1 355.4"/>
<path d="M104.5 361.6 C104.9 361.0 105.9 359.2 107.0 358.2 C108.0 357.2 110.1 356.0 110.8 355.5"/>
<path d="M96.0 345.0 C97.0 345.6 100.1 347.8 102.0 348.6 C103.8 349.5 106.2 349.7 107.1 349.9"/>
<path d="M102.0 348.6 C102.6 348.4 104.6 347.2 105.9 347.0 C107.2 346.9 109.1 347.5 109.7 347.6"/>
<path d="M112.6 356.4 C112.6 355.7 112.6 353.5 112.9 352.2 C113.2 351.0 114.2 349.5 114.5 348.9"/>
<path d="M99.6 335.6 C100.5 335.8 103.7 336.0 105.0 336.6 C106.2 337.2 106.9 338.9 107.2 339.4"/>
<path d="M105.0 336.6 C105.6 336.4 107.7 335.3 109.0 335.2 C110.3 335.2 112.1 335.9 112.7 336.1"/>
<path d="M112.3 350.1 C112.8 349.8 114.1 348.7 115.4 348.3 C116.6 347.8 119.0 347.5 119.7 347.4"/>
<path d="M106.5 329.2 C106.9 330.4 107.8 334.8 108.8 336.4 C109.9 338.1 112.0 338.5 112.6 338.9"/>
<path d="M108.8 336.4 C109.5 336.2 111.7 335.3 113.0 335.3 C114.3 335.2 116.0 336.1 116.6 336.3"/>
<path d="M113.3 342.3 C113.8 342.1 115.1 341.5 116.4 341.3 C117.6 341.1 119.9 341.3 120.6 341.3"/>
<path d="M110.3 325.9 C111.2 326.7 114.1 329.1 115.6 330.5 C117.1 331.8 118.6 333.4 119.2 334.0"/>
<path d="M111.7 324.6 C112.2 324.3 113.7 323.5 114.4 322.7 C115.1 321.9 115.6 320.3 115.8 319.8"/>
<path d="M115.7 318.5 C116.7 319.0 120.4 320.3 121.9 321.4 C123.4 322.4 124.2 324.4 124.6 325.0"/>
<path d="M130.3 337.9 C131.0 337.6 132.8 336.7 134.3 336.3 C135.8 336.0 138.4 335.9 139.3 335.9"/>
<path d="M121.5 313.2 C121.8 314.1 123.0 317.0 123.7 318.5 C124.3 320.0 125.0 321.6 125.3 322.2"/>
<path d="M123.7 318.5 C124.4 318.5 126.7 318.2 128.0 318.6 C129.2 318.9 130.6 320.3 131.2 320.6"/>
<path d="M127.1 330.6 C127.9 330.2 129.9 329.0 131.5 328.6 C133.1 328.1 135.9 328.0 136.8 327.8"/>
<path d="M130.1 309.7 C130.8 310.6 133.3 313.6 134.1 315.4 C134.9 317.3 134.9 319.8 135.0 320.7"/>
<path d="M134.1 315.4 C133.8 316.1 132.6 318.1 132.4 319.4 C132.1 320.6 132.8 322.5 132.8 323.1"/>
<path d="M132.5 325.1 C133.1 324.9 134.9 323.9 136.4 323.6 C137.8 323.3 140.3 323.4 141.0 323.4"/>
<path d="M136.4 304.6 C136.3 305.6 135.1 309.5 135.4 311.1 C135.6 312.7 137.6 313.7 138.1 314.3"/>
<path d="M141.6 327.1 C142.2 327.1 144.0 326.8 145.3 327.0 C146.6 327.2 148.8 328.0 149.5 328.2"/>
<path d="M136.8 325.1 C137.5 324.7 139.5 323.3 141.1 322.7 C142.6 322.1 145.1 321.8 145.9 321.6"/>
<path d="M141.7 302.1 C142.2 302.9 144.4 305.3 144.8 306.6 C145.2 308.0 144.2 309.7 144.1 310.3"/>
<path d="M144.8 306.6 C144.3 307.1 142.4 308.5 141.8 309.6 C141.1 310.7 141.0 312.7 140.8 313.3"/>
<path d="M140.8 326.3 C141.4 326.1 143.0 325.6 144.1 325.6 C145.3 325.6 147.1 326.2 147.7 326.4"/>
<path d="M147.6 304.4 C147.5 305.5 147.0 309.3 147.0 311.3 C147.1 313.4 147.7 315.6 147.9 316.4"/>
<path d="M143.2 326.4 C143.8 326.1 145.4 325.2 146.5 325.0 C147.6 324.8 149.1 325.1 149.7 325.1"/>
<path d="M142.6 319.0 C143.4 319.2 145.8 319.4 147.4 319.9 C149.0 320.4 151.3 321.9 152.0 322.3"/>
<path d="M156.1 303.2 C156.2 304.1 156.3 306.8 156.6 308.2 C156.8 309.7 157.3 311.2 157.5 311.8"/>
<path d="M151.3 322.4 C152.1 322.2 154.6 321.5 156.2 321.5 C157.8 321.5 160.1 322.0 160.9 322.1"/>
<path d="M164.8 306.3 C164.5 307.4 163.6 311.2 162.9 313.1 C162.2 315.0 160.9 317.0 160.5 317.8"/>
<path d="M162.2 310.0 C162.9 310.3 164.9 311.2 166.3 311.4 C167.8 311.6 170.0 311.2 170.7 311.2"/>
<path d="M173.7 307.2 C172.9 308.1 169.9 311.0 169.1 312.6 C168.4 314.3 169.1 316.5 169.1 317.2"/>
<path d="M169.1 312.6 C169.6 313.2 171.4 314.7 172.0 315.8 C172.6 317.0 172.6 318.9 172.7 319.6"/>
<path d="M173.1 308.0 C173.5 308.2 174.7 309.1 175.5 309.3 C176.4 309.5 177.8 309.2 178.2 309.1"/>
<path d="M167.5 321.0 C168.3 321.1 170.6 321.2 172.1 321.7 C173.5 322.2 175.6 323.6 176.3 324.0"/>
<path d="M181.5 306.2 C181.1 306.8 179.7 308.6 179.2 309.6 C178.8 310.6 178.7 311.8 178.6 312.3"/>
<path d="M179.2 313.5 C179.8 313.8 181.6 315.0 182.9 315.4 C184.3 315.8 186.4 315.7 187.1 315.7"/>
<path d="M175.4 323.8 C175.8 324.2 177.1 325.3 177.8 326.4 C178.5 327.5 179.5 329.8 179.8 330.4"/>
<path d="M189.2 310.9 C188.7 311.7 187.5 314.5 186.5 315.8 C185.5 317.1 183.8 318.2 183.2 318.7"/>
<path d="M186.5 315.8 C185.8 315.9 183.5 316.1 182.3 316.6 C181.1 317.2 179.9 318.8 179.5 319.2"/>
<path d="M180.1 320.5 C180.5 321.1 181.8 322.7 182.5 324.2 C183.2 325.6 184.0 328.4 184.3 329.2"/>
<path d="M194.3 315.9 C193.4 316.7 190.8 319.5 189.4 321.0 C188.0 322.5 186.5 324.1 186.0 324.7"/>
<path d="M189.4 321.0 C189.6 321.7 190.7 323.8 190.9 325.1 C191.0 326.4 190.3 328.2 190.1 328.8"/>
<path d="M183.4 327.7 C183.8 328.1 185.1 328.9 185.7 329.8 C186.4 330.8 187.0 332.7 187.2 333.2"/>
<path d="M200.9 318.1 C200.6 318.9 199.9 321.7 199.4 323.0 C198.9 324.4 198.2 325.7 197.9 326.3"/>
<path d="M186.6 334.9 C187.3 334.9 189.3 334.9 190.4 335.1 C191.6 335.4 192.9 336.4 193.4 336.6"/>
<path d="M209.8 322.3 C209.6 322.9 209.1 325.1 208.9 326.2 C208.6 327.3 208.3 328.5 208.2 329.0"/>
<path d="M208.9 326.2 C209.2 326.9 210.4 328.8 210.6 330.1 C210.8 331.4 210.2 333.3 210.1 333.9"/>
<path d="M207.1 325.6 C207.5 326.0 208.5 327.4 209.4 327.9 C210.3 328.4 212.0 328.7 212.5 328.8"/>
<path d="M193.6 339.4 C194.4 339.6 196.9 340.1 198.3 340.8 C199.7 341.5 201.5 343.1 202.2 343.6"/>
<path d="M216.2 330.2 C215.5 331.1 212.9 333.9 211.8 335.5 C210.6 337.2 209.8 339.3 209.4 340.0"/>
<path d="M212.5 330.9 C212.8 331.3 213.5 332.7 214.2 333.3 C214.9 333.9 216.4 334.2 216.9 334.4"/>
<path d="M202.4 338.3 C202.9 338.5 204.7 338.6 205.7 339.1 C206.6 339.5 207.6 340.6 208.0 340.9"/>
<path d="M222.4 332.0 C222.3 332.8 222.2 335.8 221.4 336.6 C220.7 337.5 218.7 337.0 218.1 337.1"/>
<path d="M221.4 336.6 C221.5 337.3 222.1 339.6 222.0 340.9 C221.8 342.2 220.6 343.8 220.4 344.3"/>
<path d="M202.3 343.5 C202.9 343.8 204.8 344.7 205.8 345.5 C206.8 346.3 207.8 348.0 208.2 348.5"/>
<path d="M226.6 338.4 C226.4 339.3 225.5 342.4 225.0 343.9 C224.5 345.5 223.7 347.0 223.5 347.6"/>
<path d="M225.0 343.9 C225.1 344.7 225.6 346.9 225.4 348.2 C225.2 349.5 224.1 351.1 223.8 351.7"/>
<path d="M211.3 351.1 C211.8 351.2 213.7 351.6 214.6 352.2 C215.5 352.7 216.4 353.9 216.8 354.2"/>
<path d="M230.5 346.4 C229.5 346.9 226.1 348.8 224.4 349.7 C222.6 350.7 220.7 351.8 220.0 352.2"/>
<path d="M224.4 349.7 C223.7 349.5 221.7 348.3 220.4 348.1 C219.1 348.0 217.2 348.7 216.6 348.8"/>
<path d="M214.1 353.5 C214.5 354.0 215.8 355.5 216.4 356.8 C216.9 358.0 217.1 360.2 217.3 360.9"/>
<path d="M235.0 354.4 C233.8 354.2 229.7 353.4 227.7 353.3 C225.7 353.1 223.8 353.4 223.0 353.5"/>
<path d="M217.9 354.3 C218.2 354.9 219.3 356.4 219.6 357.5 C220.0 358.7 219.9 360.7 219.9 361.3"/>
<path d="M238.8 361.0 C238.0 361.0 235.1 360.8 233.8 361.1 C232.4 361.4 231.2 362.7 230.7 363.0"/>
<path d="M238.8 365.3 C237.9 365.6 234.9 367.1 233.3 367.4 C231.7 367.8 230.0 367.3 229.3 367.2"/>
<path d="M233.3 367.4 C232.9 368.0 232.0 370.2 231.1 371.1 C230.1 372.0 228.2 372.5 227.7 372.8"/>
<path d="M234.9 367.3 C234.8 367.9 234.2 369.6 234.3 370.7 C234.4 371.8 235.2 373.5 235.3 374.0"/>
<path d="M239.5 374.3 C238.6 374.6 235.8 375.4 234.4 375.8 C232.9 376.2 231.3 376.5 230.7 376.6"/>
<path d="M235.9 382.3 C234.8 382.2 231.2 382.1 229.5 381.4 C227.9 380.7 226.5 378.8 225.9 378.3"/>
<path d="M234.9 390.7 C234.3 390.4 232.3 389.6 231.4 388.9 C230.5 388.3 229.9 387.0 229.6 386.6"/>
<path d="M231.4 388.9 C230.8 389.2 228.8 390.5 227.5 390.7 C226.2 390.9 224.3 390.2 223.7 390.2"/>
<path d="M229.9 385.9 C229.6 386.2 228.3 387.0 227.9 387.7 C227.5 388.4 227.4 389.9 227.3 390.3"/>
<path d="M225.9 377.0 C225.3 377.4 223.5 378.7 222.0 379.4 C220.4 380.0 217.6 380.7 216.7 381.0"/>
<path d="M233.1 393.4 C232.3 393.3 228.9 393.1 227.9 392.6 C226.9 392.0 227.0 390.3 226.9 389.9"/>
<path d="M227.9 392.6 C227.2 392.6 224.9 393.0 223.6 392.7 C222.3 392.4 220.8 391.2 220.3 390.9"/>
<path d="M229.5 389.5 C228.9 389.8 227.2 390.3 226.2 391.0 C225.3 391.7 224.4 393.3 224.0 393.8"/>
<path d="M224.9 376.1 C224.2 376.4 222.4 377.4 220.9 377.7 C219.4 378.1 216.8 378.1 216.0 378.2"/>
<path d="M225.8 397.0 C225.6 396.4 224.6 394.5 224.4 393.4 C224.2 392.3 224.7 391.0 224.7 390.5"/>
<path d="M224.5 376.4 C223.7 376.8 221.6 378.1 220.1 378.5 C218.6 379.0 216.1 379.1 215.3 379.3"/>
<path d="M220.0 395.7 C219.3 394.7 216.4 391.6 215.8 390.0 C215.3 388.4 216.4 386.7 216.5 386.0"/>
<path d="M223.8 379.6 C223.1 379.8 220.9 380.6 219.5 380.7 C218.0 380.9 215.9 380.4 215.2 380.4"/>
<path d="M212.4 395.9 C212.0 395.0 210.3 391.8 210.0 390.3 C209.6 388.8 210.1 387.4 210.2 386.8"/>
<path d="M210.0 390.3 C210.6 390.0 212.9 389.5 213.9 388.7 C215.0 387.9 215.8 386.1 216.2 385.6"/>
<path d="M219.3 380.6 C218.7 380.3 217.0 379.4 216.0 378.4 C215.0 377.4 213.6 375.3 213.1 374.6"/>
<path d="M203.9 392.9 C204.8 392.5 207.8 391.1 209.1 390.3 C210.5 389.5 211.5 388.3 212.0 387.9"/>
<path d="M216.0 382.6 C215.5 382.1 213.8 380.7 212.9 379.4 C212.0 378.1 211.0 375.7 210.7 374.9"/>
<path d="M132.4 375.3 C132.7 373.9 133.9 369.5 134.6 367.1 C135.3 364.6 136.3 361.5 136.6 360.3"/>
<path d="M125.5 373.6 C125.2 372.4 124.3 368.4 123.8 366.2 C123.2 364.0 122.4 361.3 122.2 360.3"/>
<path d="M119.2 376.3 C118.6 375.2 117.0 371.6 116.0 369.5 C115.1 367.5 113.9 365.0 113.5 364.1"/>
<path d="M112.5 379.5 C112.1 378.6 110.6 375.7 109.8 374.1 C109.1 372.5 108.2 370.7 107.9 370.0"/>
<path d="M106.5 383.7 C106.0 382.8 104.5 379.9 103.7 378.3 C102.9 376.7 102.1 374.8 101.8 374.1"/>
<path d="M100.5 388.1 C99.8 386.9 97.4 383.0 96.1 380.8 C94.8 378.5 93.2 375.6 92.6 374.6"/>
<path d="M94.3 393.0 C93.9 392.1 92.7 389.1 92.0 387.4 C91.4 385.8 90.6 384.0 90.3 383.3"/>
<path d="M86.3 392.9 C87.0 391.7 89.5 387.9 90.9 385.7 C92.3 383.5 94.2 380.8 94.9 379.8"/>
<path d="M102.6 348.4 C102.2 349.0 101.2 350.6 100.3 351.8 C99.5 353.0 97.9 355.0 97.4 355.6"/>
<path d="M113.3 344.8 C112.8 345.0 111.3 345.7 110.2 345.7 C109.1 345.8 107.3 345.3 106.7 345.2"/>
<path d="M123.5 337.4 C122.8 337.7 120.5 338.5 119.3 339.4 C118.2 340.2 117.0 342.0 116.5 342.6"/>
<path d="M133.6 334.4 C132.9 334.8 130.8 336.2 129.6 336.7 C128.4 337.2 126.9 337.4 126.4 337.6"/>
<path d="M94.3 361.0 C94.5 361.6 95.4 363.3 95.6 364.6 C95.9 366.0 95.7 368.2 95.7 369.0"/>
<path d="M108.6 360.9 C108.0 361.1 106.2 361.7 105.0 362.1 C103.8 362.4 102.0 362.9 101.4 363.1"/>
<path d="M118.2 352.8 C117.7 353.4 116.4 354.7 115.3 356.1 C114.3 357.5 112.4 360.3 111.8 361.2"/>
<path d="M121.2 349.4 C121.7 349.9 123.0 351.7 124.2 352.5 C125.5 353.4 128.0 354.2 128.8 354.6"/>
<path d="M132.5 345.7 C132.9 346.0 134.4 346.6 135.3 347.4 C136.1 348.2 137.2 349.8 137.5 350.3"/>
<path d="M114.7 365.8 C114.4 366.3 113.5 368.1 112.6 368.9 C111.7 369.6 109.8 370.0 109.3 370.2"/>
<path d="M125.2 363.5 C124.6 363.6 122.6 364.1 121.6 364.3 C120.5 364.5 119.2 364.5 118.8 364.5"/>
<path d="M128.3 359.1 C128.8 359.5 129.9 361.2 131.2 361.8 C132.4 362.5 134.9 362.7 135.7 362.9"/>
<path d="M83.5 371.6 C84.2 371.7 86.5 371.9 88.0 372.0 C89.5 372.1 91.8 372.3 92.5 372.4"/>
<path d="M136.2 341.8 C136.7 341.8 138.4 341.6 139.7 341.7 C140.9 341.8 143.1 342.1 143.8 342.2"/>
</g></g>
<clipPath id="silC"><path d="M80.0 372.0 C79.8 368.5 79.5 365.2 80.0 362.0 C80.5 358.8 81.8 356.0 83.0 353.0 C84.2 350.0 85.7 346.5 87.0 344.0 C88.3 341.5 89.5 340.2 91.0 338.0 C92.5 335.8 94.0 333.7 96.0 331.0 C98.0 328.3 100.3 325.2 103.0 322.0 C105.7 318.8 108.8 314.8 112.0 312.0 C115.2 309.2 118.3 307.2 122.0 305.0 C125.7 302.8 130.2 300.1 134.0 298.5 C137.8 296.9 141.7 295.7 145.0 295.5 C148.3 295.3 150.3 297.0 154.0 297.5 C157.7 298.0 163.2 298.0 167.0 298.5 C170.8 299.0 173.2 299.6 177.0 300.5 C180.8 301.4 186.2 302.4 190.0 304.0 C193.8 305.6 197.0 307.9 200.0 310.0 C203.0 312.1 204.7 314.4 208.0 316.5 C211.3 318.6 215.9 319.5 219.6 322.4 C223.3 325.3 226.9 330.3 230.0 333.7 C233.1 337.1 235.8 339.3 238.0 343.0 C240.2 346.7 242.2 351.3 243.5 356.0 C244.8 360.7 246.2 366.0 246.0 371.0 C245.8 376.0 244.1 381.7 242.5 386.0 C240.9 390.3 239.6 394.2 236.5 397.0 C233.4 399.8 228.2 401.8 224.0 402.5 C219.8 403.2 215.0 402.3 211.0 401.5 C207.0 400.7 202.8 399.2 200.0 397.5 C197.2 395.8 196.0 393.2 194.0 391.0 C192.0 388.8 190.3 385.0 188.0 384.0 C185.7 383.0 183.8 385.7 180.0 385.0 C176.2 384.3 170.0 381.3 165.0 380.0 C160.0 378.7 154.5 378.0 150.0 377.0 C145.5 376.0 142.2 374.8 138.0 374.0 C133.8 373.2 129.3 371.3 125.0 372.0 C120.7 372.7 115.8 375.8 112.0 378.0 C108.2 380.2 105.3 382.5 102.0 385.0 C98.7 387.5 94.8 392.0 92.0 393.0 C89.2 394.0 86.8 392.7 85.0 391.0 C83.2 389.3 81.8 386.2 81.0 383.0 C80.2 379.8 80.2 375.5 80.0 372.0Z"/></clipPath>
<g clip-path="url(#silC)"><g filter="url(#bl07)" stroke="#383838" stroke-width="2.2" fill="none" stroke-linecap="round" stroke-linejoin="round">
<path d="M77.0 363.0 C78.5 363.1 83.4 363.1 85.6 363.8 C87.8 364.5 88.7 366.7 90.1 367.0 C91.5 367.3 93.2 366.0 93.8 365.8"/>
<path d="M90.1 367.0 C90.4 367.6 91.2 369.8 92.1 370.8 C93.0 371.8 94.8 372.4 95.4 372.8"/>
<path d="M104.4 371.9 C104.3 371.3 103.8 369.2 103.9 367.9 C104.0 366.6 104.7 364.7 104.9 364.0"/>
<path d="M79.4 354.2 C81.2 354.8 86.9 357.0 89.8 357.9 C92.7 358.7 94.9 358.5 96.7 359.3 C98.6 360.0 100.3 361.7 101.0 362.2"/>
<path d="M108.6 367.2 C109.3 366.8 111.0 365.5 112.5 364.8 C114.0 364.1 116.9 363.3 117.8 363.0"/>
<path d="M103.7 368.3 C103.6 367.6 103.1 365.6 103.2 364.4 C103.3 363.1 104.1 361.5 104.2 360.9"/>
<path d="M82.9 345.9 C84.5 346.5 89.8 348.8 92.4 349.6 C95.1 350.5 97.1 350.3 98.8 350.9 C100.5 351.5 102.0 352.9 102.7 353.3"/>
<path d="M97.2 352.3 C97.5 352.0 98.7 351.0 99.1 350.2 C99.5 349.4 99.5 347.9 99.6 347.5"/>
<path d="M110.3 362.0 C110.6 361.4 111.5 359.4 112.5 358.3 C113.5 357.3 115.5 355.9 116.1 355.4"/>
<path d="M104.5 361.6 C104.9 361.0 105.9 359.2 107.0 358.2 C108.0 357.2 110.1 356.0 110.8 355.5"/>
<path d="M87.3 338.2 C88.7 339.3 93.5 343.2 96.0 345.0 C98.4 346.7 100.1 347.8 102.0 348.6 C103.8 349.5 106.2 349.7 107.1 349.9"/>
<path d="M102.0 348.6 C102.6 348.4 104.6 347.2 105.9 347.0 C107.2 346.9 109.1 347.5 109.7 347.6"/>
<path d="M112.6 356.4 C112.6 355.7 112.6 353.5 112.9 352.2 C113.2 351.0 114.2 349.5 114.5 348.9"/>
<path d="M92.3 331.0 C93.5 331.8 97.5 334.7 99.6 335.6 C101.7 336.6 103.7 336.0 105.0 336.6 C106.2 337.2 106.9 338.9 107.2 339.4"/>
<path d="M105.0 336.6 C105.6 336.4 107.7 335.3 109.0 335.2 C110.3 335.2 112.1 335.9 112.7 336.1"/>
<path d="M112.3 350.1 C112.8 349.8 114.1 348.7 115.4 348.3 C116.6 347.8 119.0 347.5 119.7 347.4"/>
<path d="M97.6 324.0 C99.1 324.9 104.7 327.2 106.5 329.2 C108.4 331.3 107.8 334.8 108.8 336.4 C109.9 338.1 112.0 338.5 112.6 338.9"/>
<path d="M108.8 336.4 C109.5 336.2 111.7 335.3 113.0 335.3 C114.3 335.2 116.0 336.1 116.6 336.3"/>
<path d="M113.3 342.3 C113.8 342.1 115.1 341.5 116.4 341.3 C117.6 341.1 119.9 341.3 120.6 341.3"/>
<path d="M103.2 317.3 C104.4 318.8 108.2 323.7 110.3 325.9 C112.3 328.1 114.1 329.1 115.6 330.5 C117.1 331.8 118.6 333.4 119.2 334.0"/>
<path d="M111.7 324.6 C112.2 324.3 113.7 323.5 114.4 322.7 C115.1 321.9 115.6 320.3 115.8 319.8"/>
<path d="M109.2 310.7 C110.3 312.0 113.6 316.8 115.7 318.5 C117.8 320.3 120.4 320.3 121.9 321.4 C123.4 322.4 124.2 324.4 124.6 325.0"/>
<path d="M130.3 337.9 C131.0 337.6 132.8 336.7 134.3 336.3 C135.8 336.0 138.4 335.9 139.3 335.9"/>
<path d="M116.4 305.3 C117.2 306.6 120.3 311.0 121.5 313.2 C122.7 315.4 123.0 317.0 123.7 318.5 C124.3 320.0 125.0 321.6 125.3 322.2"/>
<path d="M123.7 318.5 C124.4 318.5 126.7 318.2 128.0 318.6 C129.2 318.9 130.6 320.3 131.2 320.6"/>
<path d="M127.1 330.6 C127.9 330.2 129.9 329.0 131.5 328.6 C133.1 328.1 135.9 328.0 136.8 327.8"/>
<path d="M123.8 300.6 C124.9 302.1 128.4 307.2 130.1 309.7 C131.8 312.2 133.3 313.6 134.1 315.4 C134.9 317.3 134.9 319.8 135.0 320.7"/>
<path d="M134.1 315.4 C133.8 316.1 132.6 318.1 132.4 319.4 C132.1 320.6 132.8 322.5 132.8 323.1"/>
<path d="M132.5 325.1 C133.1 324.9 134.9 323.9 136.4 323.6 C137.8 323.3 140.3 323.4 141.0 323.4"/>
<path d="M131.7 296.3 C132.5 297.7 135.8 302.1 136.4 304.6 C137.0 307.0 135.1 309.5 135.4 311.1 C135.6 312.7 137.6 313.7 138.1 314.3"/>
<path d="M141.6 327.1 C142.2 327.1 144.0 326.8 145.3 327.0 C146.6 327.2 148.8 328.0 149.5 328.2"/>
<path d="M136.8 325.1 C137.5 324.7 139.5 323.3 141.1 322.7 C142.6 322.1 145.1 321.8 145.9 321.6"/>
<path d="M140.6 293.6 C140.8 295.0 141.0 300.0 141.7 302.1 C142.4 304.3 144.4 305.3 144.8 306.6 C145.2 308.0 144.2 309.7 144.1 310.3"/>
<path d="M144.8 306.6 C144.3 307.1 142.4 308.5 141.8 309.6 C141.1 310.7 141.0 312.7 140.8 313.3"/>
<path d="M140.8 326.3 C141.4 326.1 143.0 325.6 144.1 325.6 C145.3 325.6 147.1 326.2 147.7 326.4"/>
<path d="M149.7 293.5 C149.3 295.3 148.0 301.4 147.6 304.4 C147.1 307.3 147.0 309.3 147.0 311.3 C147.1 313.4 147.7 315.6 147.9 316.4"/>
<path d="M143.2 326.4 C143.8 326.1 145.4 325.2 146.5 325.0 C147.6 324.8 149.1 325.1 149.7 325.1"/>
<path d="M142.6 319.0 C143.4 319.2 145.8 319.4 147.4 319.9 C149.0 320.4 151.3 321.9 152.0 322.3"/>
<path d="M158.3 294.8 C157.9 296.2 156.4 301.0 156.1 303.2 C155.8 305.5 156.3 306.8 156.6 308.2 C156.8 309.7 157.3 311.2 157.5 311.8"/>
<path d="M151.3 322.4 C152.1 322.2 154.6 321.5 156.2 321.5 C157.8 321.5 160.1 322.0 160.9 322.1"/>
<path d="M166.9 295.5 C166.5 297.3 165.5 303.4 164.8 306.3 C164.1 309.2 163.6 311.2 162.9 313.1 C162.2 315.0 160.9 317.0 160.5 317.8"/>
<path d="M162.2 310.0 C162.9 310.3 164.9 311.2 166.3 311.4 C167.8 311.6 170.0 311.2 170.7 311.2"/>
<path d="M175.6 297.2 C175.3 298.8 174.7 304.6 173.7 307.2 C172.6 309.8 169.9 311.0 169.1 312.6 C168.4 314.3 169.1 316.5 169.1 317.2"/>
<path d="M169.1 312.6 C169.6 313.2 171.4 314.7 172.0 315.8 C172.6 317.0 172.6 318.9 172.7 319.6"/>
<path d="M173.1 308.0 C173.5 308.2 174.7 309.1 175.5 309.3 C176.4 309.5 177.8 309.2 178.2 309.1"/>
<path d="M167.5 321.0 C168.3 321.1 170.6 321.2 172.1 321.7 C173.5 322.2 175.6 323.6 176.3 324.0"/>
<path d="M184.1 299.3 C183.7 300.5 182.3 304.5 181.5 306.2 C180.7 308.0 179.7 308.6 179.2 309.6 C178.8 310.6 178.7 311.8 178.6 312.3"/>
<path d="M179.2 313.5 C179.8 313.8 181.6 315.0 182.9 315.4 C184.3 315.8 186.4 315.7 187.1 315.7"/>
<path d="M175.4 323.8 C175.8 324.2 177.1 325.3 177.8 326.4 C178.5 327.5 179.5 329.8 179.8 330.4"/>
<path d="M192.6 302.1 C192.1 303.6 190.2 308.6 189.2 310.9 C188.1 313.1 187.5 314.5 186.5 315.8 C185.5 317.1 183.8 318.2 183.2 318.7"/>
<path d="M186.5 315.8 C185.8 315.9 183.5 316.1 182.3 316.6 C181.1 317.2 179.9 318.8 179.5 319.2"/>
<path d="M180.1 320.5 C180.5 321.1 181.8 322.7 182.5 324.2 C183.2 325.6 184.0 328.4 184.3 329.2"/>
<path d="M200.5 306.8 C199.4 308.3 196.1 313.5 194.3 315.9 C192.4 318.2 190.8 319.5 189.4 321.0 C188.0 322.5 186.5 324.1 186.0 324.7"/>
<path d="M189.4 321.0 C189.6 321.7 190.7 323.8 190.9 325.1 C191.0 326.4 190.3 328.2 190.1 328.8"/>
<path d="M183.4 327.7 C183.8 328.1 185.1 328.9 185.7 329.8 C186.4 330.8 187.0 332.7 187.2 333.2"/>
<path d="M207.3 312.0 C206.2 313.1 202.2 316.3 200.9 318.1 C199.6 319.9 199.9 321.7 199.4 323.0 C198.9 324.4 198.2 325.7 197.9 326.3"/>
<path d="M186.6 334.9 C187.3 334.9 189.3 334.9 190.4 335.1 C191.6 335.4 192.9 336.4 193.4 336.6"/>
<path d="M214.4 316.4 C213.6 317.4 210.7 320.6 209.8 322.3 C208.8 323.9 209.1 325.1 208.9 326.2 C208.6 327.3 208.3 328.5 208.2 329.0"/>
<path d="M208.9 326.2 C209.2 326.9 210.4 328.8 210.6 330.1 C210.8 331.4 210.2 333.3 210.1 333.9"/>
<path d="M207.1 325.6 C207.5 326.0 208.5 327.4 209.4 327.9 C210.3 328.4 212.0 328.7 212.5 328.8"/>
<path d="M193.6 339.4 C194.4 339.6 196.9 340.1 198.3 340.8 C199.7 341.5 201.5 343.1 202.2 343.6"/>
<path d="M222.2 320.8 C221.2 322.4 218.0 327.7 216.2 330.2 C214.5 332.6 212.9 333.9 211.8 335.5 C210.6 337.2 209.8 339.3 209.4 340.0"/>
<path d="M212.5 330.9 C212.8 331.3 213.5 332.7 214.2 333.3 C214.9 333.9 216.4 334.2 216.9 334.4"/>
<path d="M202.4 338.3 C202.9 338.5 204.7 338.6 205.7 339.1 C206.6 339.5 207.6 340.6 208.0 340.9"/>
<path d="M228.3 327.5 C227.4 328.2 223.6 330.5 222.4 332.0 C221.3 333.5 222.2 335.8 221.4 336.6 C220.7 337.5 218.7 337.0 218.1 337.1"/>
<path d="M221.4 336.6 C221.5 337.3 222.1 339.6 222.0 340.9 C221.8 342.2 220.6 343.8 220.4 344.3"/>
<path d="M202.3 343.5 C202.9 343.8 204.8 344.7 205.8 345.5 C206.8 346.3 207.8 348.0 208.2 348.5"/>
<path d="M234.1 333.9 C232.9 334.7 228.2 336.7 226.6 338.4 C225.1 340.1 225.5 342.4 225.0 343.9 C224.5 345.5 223.7 347.0 223.5 347.6"/>
<path d="M225.0 343.9 C225.1 344.7 225.6 346.9 225.4 348.2 C225.2 349.5 224.1 351.1 223.8 351.7"/>
<path d="M211.3 351.1 C211.8 351.2 213.7 351.6 214.6 352.2 C215.5 352.7 216.4 353.9 216.8 354.2"/>
<path d="M240.0 340.8 C238.4 341.7 233.1 344.9 230.5 346.4 C227.9 347.9 226.1 348.8 224.4 349.7 C222.6 350.7 220.7 351.8 220.0 352.2"/>
<path d="M224.4 349.7 C223.7 349.5 221.7 348.3 220.4 348.1 C219.1 348.0 217.2 348.7 216.6 348.8"/>
<path d="M214.1 353.5 C214.5 354.0 215.8 355.5 216.4 356.8 C216.9 358.0 217.1 360.2 217.3 360.9"/>
<path d="M243.8 349.1 C242.3 350.0 237.6 353.7 235.0 354.4 C232.3 355.1 229.7 353.4 227.7 353.3 C225.7 353.1 223.8 353.4 223.0 353.5"/>
<path d="M217.9 354.3 C218.2 354.9 219.3 356.4 219.6 357.5 C220.0 358.7 219.9 360.7 219.9 361.3"/>
<path d="M246.8 357.5 C245.5 358.1 241.0 360.4 238.8 361.0 C236.6 361.6 235.1 360.8 233.8 361.1 C232.4 361.4 231.2 362.7 230.7 363.0"/>
<path d="M248.3 366.5 C246.7 366.3 241.3 365.1 238.8 365.3 C236.3 365.4 234.9 367.1 233.3 367.4 C231.7 367.8 230.0 367.3 229.3 367.2"/>
<path d="M233.3 367.4 C232.9 368.0 232.0 370.2 231.1 371.1 C230.1 372.0 228.2 372.5 227.7 372.8"/>
<path d="M234.9 367.3 C234.8 367.9 234.2 369.6 234.3 370.7 C234.4 371.8 235.2 373.5 235.3 374.0"/>
<path d="M248.0 375.6 C246.6 375.4 241.8 374.3 239.5 374.3 C237.2 374.4 235.8 375.4 234.4 375.8 C232.9 376.2 231.3 376.5 230.7 376.6"/>
<path d="M245.9 384.5 C244.2 384.1 238.6 382.8 235.9 382.3 C233.2 381.8 231.2 382.1 229.5 381.4 C227.9 380.7 226.5 378.8 225.9 378.3"/>
<path d="M242.2 392.9 C240.9 392.5 236.7 391.3 234.9 390.7 C233.1 390.0 232.3 389.6 231.4 388.9 C230.5 388.3 229.9 387.0 229.6 386.6"/>
<path d="M231.4 388.9 C230.8 389.2 228.8 390.5 227.5 390.7 C226.2 390.9 224.3 390.2 223.7 390.2"/>
<path d="M229.9 385.9 C229.6 386.2 228.3 387.0 227.9 387.7 C227.5 388.4 227.4 389.9 227.3 390.3"/>
<path d="M225.9 377.0 C225.3 377.4 223.5 378.7 222.0 379.4 C220.4 380.0 217.6 380.7 216.7 381.0"/>
<path d="M236.4 400.2 C235.8 399.1 234.5 394.7 233.1 393.4 C231.7 392.1 228.9 393.1 227.9 392.6 C226.9 392.0 227.0 390.3 226.9 389.9"/>
<path d="M227.9 392.6 C227.2 392.6 224.9 393.0 223.6 392.7 C222.3 392.4 220.8 391.2 220.3 390.9"/>
<path d="M229.5 389.5 C228.9 389.8 227.2 390.3 226.2 391.0 C225.3 391.7 224.4 393.3 224.0 393.8"/>
<path d="M224.9 376.1 C224.2 376.4 222.4 377.4 220.9 377.7 C219.4 378.1 216.8 378.1 216.0 378.2"/>
<path d="M227.4 404.2 C227.1 403.0 226.3 398.8 225.8 397.0 C225.3 395.2 224.6 394.5 224.4 393.4 C224.2 392.3 224.7 391.0 224.7 390.5"/>
<path d="M224.5 376.4 C223.7 376.8 221.6 378.1 220.1 378.5 C218.6 379.0 216.1 379.1 215.3 379.3"/>
<path d="M218.3 405.1 C218.6 403.5 220.4 398.2 220.0 395.7 C219.6 393.2 216.4 391.6 215.8 390.0 C215.3 388.4 216.4 386.7 216.5 386.0"/>
<path d="M223.8 379.6 C223.1 379.8 220.9 380.6 219.5 380.7 C218.0 380.9 215.9 380.4 215.2 380.4"/>
<path d="M209.1 404.0 C209.7 402.6 212.2 398.2 212.4 395.9 C212.5 393.6 210.3 391.8 210.0 390.3 C209.6 388.8 210.1 387.4 210.2 386.8"/>
<path d="M210.0 390.3 C210.6 390.0 212.9 389.5 213.9 388.7 C215.0 387.9 215.8 386.1 216.2 385.6"/>
<path d="M219.3 380.6 C218.7 380.3 217.0 379.4 216.0 378.4 C215.0 377.4 213.6 375.3 213.1 374.6"/>
<path d="M200.2 400.7 C200.8 399.4 202.4 394.6 203.9 392.9 C205.4 391.2 207.8 391.1 209.1 390.3 C210.5 389.5 211.5 388.3 212.0 387.9"/>
<path d="M216.0 382.6 C215.5 382.1 213.8 380.7 212.9 379.4 C212.0 378.1 211.0 375.7 210.7 374.9"/>
<path d="M132.4 375.3 C132.7 373.9 133.9 369.5 134.6 367.1 C135.3 364.6 136.3 361.5 136.6 360.3"/>
<path d="M125.5 373.6 C125.2 372.4 124.3 368.4 123.8 366.2 C123.2 364.0 122.4 361.3 122.2 360.3"/>
<path d="M119.2 376.3 C118.6 375.2 117.0 371.6 116.0 369.5 C115.1 367.5 113.9 365.0 113.5 364.1"/>
<path d="M112.5 379.5 C112.1 378.6 110.6 375.7 109.8 374.1 C109.1 372.5 108.2 370.7 107.9 370.0"/>
<path d="M106.5 383.7 C106.0 382.8 104.5 379.9 103.7 378.3 C102.9 376.7 102.1 374.8 101.8 374.1"/>
<path d="M100.5 388.1 C99.8 386.9 97.4 383.0 96.1 380.8 C94.8 378.5 93.2 375.6 92.6 374.6"/>
<path d="M94.3 393.0 C93.9 392.1 92.7 389.1 92.0 387.4 C91.4 385.8 90.6 384.0 90.3 383.3"/>
<path d="M86.3 392.9 C87.0 391.7 89.5 387.9 90.9 385.7 C92.3 383.5 94.2 380.8 94.9 379.8"/>
<path d="M102.6 348.4 C102.2 349.0 101.2 350.6 100.3 351.8 C99.5 353.0 97.9 355.0 97.4 355.6"/>
<path d="M113.3 344.8 C112.8 345.0 111.3 345.7 110.2 345.7 C109.1 345.8 107.3 345.3 106.7 345.2"/>
<path d="M123.5 337.4 C122.8 337.7 120.5 338.5 119.3 339.4 C118.2 340.2 117.0 342.0 116.5 342.6"/>
<path d="M133.6 334.4 C132.9 334.8 130.8 336.2 129.6 336.7 C128.4 337.2 126.9 337.4 126.4 337.6"/>
<path d="M94.3 361.0 C94.5 361.6 95.4 363.3 95.6 364.6 C95.9 366.0 95.7 368.2 95.7 369.0"/>
<path d="M108.6 360.9 C108.0 361.1 106.2 361.7 105.0 362.1 C103.8 362.4 102.0 362.9 101.4 363.1"/>
<path d="M118.2 352.8 C117.7 353.4 116.4 354.7 115.3 356.1 C114.3 357.5 112.4 360.3 111.8 361.2"/>
<path d="M121.2 349.4 C121.7 349.9 123.0 351.7 124.2 352.5 C125.5 353.4 128.0 354.2 128.8 354.6"/>
<path d="M132.5 345.7 C132.9 346.0 134.4 346.6 135.3 347.4 C136.1 348.2 137.2 349.8 137.5 350.3"/>
<path d="M114.7 365.8 C114.4 366.3 113.5 368.1 112.6 368.9 C111.7 369.6 109.8 370.0 109.3 370.2"/>
<path d="M125.2 363.5 C124.6 363.6 122.6 364.1 121.6 364.3 C120.5 364.5 119.2 364.5 118.8 364.5"/>
<path d="M128.3 359.1 C128.8 359.5 129.9 361.2 131.2 361.8 C132.4 362.5 134.9 362.7 135.7 362.9"/>
<path d="M83.5 371.6 C84.2 371.7 86.5 371.9 88.0 372.0 C89.5 372.1 91.8 372.3 92.5 372.4"/>
<path d="M136.2 341.8 C136.7 341.8 138.4 341.6 139.7 341.7 C140.9 341.8 143.1 342.1 143.8 342.2"/>
</g></g>
<g filter="url(#bl07)" stroke="#000" stroke-width="2.2" fill="none" stroke-linecap="round">
<path d="M77.0 363.0 L84.0 363.6"/>
<path d="M79.4 354.2 L86.0 356.5"/>
<path d="M82.9 345.9 L89.4 348.5"/>
<path d="M87.3 338.2 L92.8 342.5"/>
<path d="M92.3 331.0 L98.2 334.8"/>
<path d="M97.6 324.0 L103.7 327.6"/>
<path d="M103.2 317.3 L107.6 322.7"/>
<path d="M109.2 310.7 L113.6 316.1"/>
<path d="M116.4 305.3 L120.2 311.2"/>
<path d="M123.8 300.6 L127.8 306.4"/>
<path d="M131.7 296.3 L135.2 302.4"/>
<path d="M140.6 293.6 L141.5 300.5"/>
<path d="M149.7 293.5 L148.3 300.4"/>
<path d="M158.3 294.8 L156.5 301.6"/>
<path d="M166.9 295.5 L165.6 302.4"/>
<path d="M175.6 297.2 L174.3 304.0"/>
<path d="M184.1 299.3 L181.6 305.9"/>
<path d="M192.6 302.1 L190.1 308.6"/>
<path d="M200.5 306.8 L196.5 312.6"/>
<path d="M207.3 312.0 L202.2 316.9"/>
<path d="M214.4 316.4 L210.0 321.9"/>
<path d="M222.2 320.8 L218.4 326.7"/>
<path d="M228.3 327.5 L222.8 331.7"/>
<path d="M234.1 333.9 L228.1 337.5"/>
<path d="M240.0 340.8 L234.0 344.3"/>
<path d="M243.8 349.1 L237.8 352.7"/>
<path d="M246.8 357.5 L240.4 360.3"/>
<path d="M248.3 366.5 L241.3 365.6"/>
<path d="M248.0 375.6 L241.1 374.6"/>
<path d="M245.9 384.5 L239.1 383.0"/>
<path d="M242.2 392.9 L235.5 390.8"/>
<path d="M236.4 400.2 L233.4 393.9"/>
<path d="M227.4 404.2 L225.9 397.4"/>
<path d="M218.3 405.1 L219.5 398.2"/>
<path d="M209.1 404.0 L211.7 397.5"/>
<path d="M200.2 400.7 L203.2 394.4"/>
</g>
<g filter="url(#bl07)" fill="none" stroke-linecap="round">
<path d="M138.0 350.0 C139.3 348.3 142.7 342.7 146.0 340.0 C149.3 337.3 153.7 335.7 158.0 334.0 C162.3 332.3 167.0 331.2 172.0 330.0 C177.0 328.8 183.0 327.5 188.0 327.0 C193.0 326.5 197.7 326.3 202.0 327.0 C206.3 327.7 210.3 328.5 214.0 331.0 C217.7 333.5 221.5 337.8 224.0 342.0 C226.5 346.2 228.3 351.2 229.0 356.0 C229.7 360.8 229.2 366.5 228.0 371.0 C226.8 375.5 224.7 379.7 222.0 383.0 C219.3 386.3 213.7 389.7 212.0 391.0" stroke="#3a3a3a" stroke-width="2"/>
<path d="M143.0 352.0 C144.5 351.0 147.8 347.3 152.0 346.0 C156.2 344.7 162.3 344.3 168.0 344.0 C173.7 343.7 180.7 343.5 186.0 344.0 C191.3 344.5 196.0 345.3 200.0 347.0 C204.0 348.7 207.5 351.2 210.0 354.0 C212.5 356.8 214.5 360.2 215.0 364.0 C215.5 367.8 214.7 373.3 213.0 377.0 C211.3 380.7 208.2 384.0 205.0 386.0 C201.8 388.0 195.8 388.5 194.0 389.0" stroke="#b4b4b4" stroke-width="7"/>
<path d="M143.0 352.0 C144.5 351.0 147.8 347.3 152.0 346.0 C156.2 344.7 162.3 344.3 168.0 344.0 C173.7 343.7 180.7 343.5 186.0 344.0 C191.3 344.5 196.0 345.3 200.0 347.0 C204.0 348.7 207.5 351.2 210.0 354.0 C212.5 356.8 214.5 360.2 215.0 364.0 C215.5 367.8 214.7 373.3 213.0 377.0 C211.3 380.7 208.2 384.0 205.0 386.0 C201.8 388.0 195.8 388.5 194.0 389.0" stroke="#4a4a4a" stroke-width="1.6"/>
</g>
<g filter="url(#bl07)">
<path d="M150.0 357.0 C150.0 355.8 152.8 352.9 157.0 352.0 C161.2 351.1 169.3 351.4 175.0 351.5 C180.7 351.6 187.0 351.8 191.0 352.5 C195.0 353.2 197.0 354.2 199.0 356.0 C201.0 357.8 202.3 360.3 203.0 363.0 C203.7 365.7 203.8 369.3 203.0 372.0 C202.2 374.7 200.0 377.8 198.0 379.0 C196.0 380.2 192.8 380.5 191.0 379.0 C189.2 377.5 188.8 372.8 187.0 370.0 C185.2 367.2 183.2 364.0 180.0 362.0 C176.8 360.0 171.8 358.5 168.0 358.0 C164.2 357.5 160.0 359.2 157.0 359.0 C154.0 358.8 150.0 358.2 150.0 357.0Z" fill="#050505"/>
<path d="M146.0 356.0 C146.7 355.0 147.7 351.4 150.0 350.0 C152.3 348.6 155.8 348.0 160.0 347.5 C164.2 347.0 170.0 346.9 175.0 347.0 C180.0 347.1 185.7 347.3 190.0 348.0 C194.3 348.7 198.0 349.5 201.0 351.0 C204.0 352.5 206.4 354.5 208.0 357.0 C209.6 359.5 210.5 362.8 210.5 366.0 C210.5 369.2 209.6 373.3 208.0 376.0 C206.4 378.7 203.5 380.7 201.0 382.0 C198.5 383.3 194.3 383.7 193.0 384.0" stroke="#e8e8e8" stroke-width="4.2" fill="none" stroke-linecap="round"/>
</g>
<g filter="url(#bl07)">
<path d="M180.0 368.0 C181.5 365.3 185.3 365.3 188.0 366.0 C190.7 366.7 194.0 369.3 196.0 372.0 C198.0 374.7 199.7 378.7 200.0 382.0 C200.3 385.3 199.7 389.7 198.0 392.0 C196.3 394.3 192.7 396.0 190.0 396.0 C187.3 396.0 183.8 394.3 182.0 392.0 C180.2 389.7 179.3 386.0 179.0 382.0 C178.7 378.0 178.5 370.7 180.0 368.0Z" fill="#939393"/>
<path d="M154.6 360.2 C156.7 359.0 161.7 358.5 164.8 359.2 C167.9 359.9 170.6 362.1 173.0 364.3 C175.4 366.5 178.0 369.8 179.0 372.5 C180.0 375.2 179.8 378.1 179.0 380.7 C178.2 383.3 175.3 385.4 174.0 388.0 C172.7 390.6 171.4 392.7 171.0 396.0 C170.6 399.3 171.7 404.3 171.5 408.0 C171.3 411.7 170.9 415.2 170.0 418.0 C169.1 420.8 168.0 422.8 166.0 425.0 C164.0 427.2 160.5 429.3 158.0 431.0 C155.5 432.7 153.0 433.5 151.0 435.0 C149.0 436.5 147.2 438.2 146.0 440.0 C144.8 441.8 145.8 445.0 144.0 446.0 C142.2 447.0 136.3 447.7 135.0 446.0 C133.7 444.3 135.7 439.7 136.0 436.0 C136.3 432.3 136.5 427.7 137.0 424.0 C137.5 420.3 138.3 417.0 139.0 414.0 C139.7 411.0 140.3 408.5 141.0 406.0 C141.7 403.5 142.2 401.7 143.0 399.0 C143.8 396.3 145.2 392.8 146.0 390.0 C146.8 387.2 147.2 384.6 148.0 382.0 C148.8 379.4 149.8 377.2 150.5 374.6 C151.2 372.0 151.8 368.8 152.5 366.4 C153.2 364.0 152.5 361.4 154.6 360.2Z" fill="#b9b9b9"/>
</g>
<g filter="url(#bl1)" fill="none" stroke-linecap="round">
<path d="M150 386 Q160 392 170 388" stroke="#9a9a9a" stroke-width="2"/>
<ellipse cx="163" cy="370" rx="9" ry="7" fill="#c6c6c6" stroke="none"/>
<path d="M187 374 L190 383 L193 375" stroke="#555" stroke-width="1.4"/>
<circle cx="182" cy="381" r="1.3" fill="#f0f0f0" stroke="none"/>
</g>
<g filter="url(#bl07)">
<path d="M97 400 C96 408 100 416 108 419 C114 421 120 420 124 416 L126 404 Z" fill="#a0a0a0"/>
<path d="M121 404 L147 392" stroke="#b0b0b0" stroke-width="8" stroke-linecap="round"/>
</g>
<g filter="url(#bl07)" stroke="#a4a4a4" stroke-width="6.4" fill="none" stroke-linecap="round">
<path d="M126.5 400.3 L140.4 390.5"/>
<path d="M125.6 399.5 L135.7 384.0"/>
<path d="M124.6 399.1 L128.2 380.4"/>
<path d="M123.5 399.0 L120.2 380.3"/>
<path d="M122.5 399.4 L113.5 383.8"/>
<path d="M121.7 400.1 L107.9 388.5"/>
<path d="M121.2 401.0 L103.3 394.5"/>
<path d="M121.0 402.0 L100.0 402.0"/>
<path d="M121.2 403.0 L101.4 410.2"/>
</g>
<g filter="url(#bl1)" stroke="#d6d6d6" stroke-width="2" fill="none" stroke-linecap="round">
<path d="M124.0 402.0 L137.1 392.8"/>
<path d="M124.0 402.0 L133.5 387.3"/>
<path d="M124.0 402.0 L127.4 384.3"/>
<path d="M124.0 402.0 L120.9 384.3"/>
<path d="M124.0 402.0 L115.5 387.3"/>
<path d="M124.0 402.0 L111.0 391.1"/>
<path d="M124.0 402.0 L107.1 395.8"/>
<path d="M124.0 402.0 L104.0 402.0"/>
<path d="M124.0 402.0 L105.2 408.8"/>
</g>
<g filter="url(#bl07)" stroke="#555" stroke-width="1.3" fill="none" stroke-linecap="round">
<path d="M100 408 Q108 409 116 405 M103 414 Q111 414 119 410 M109 418 Q115 417 121 414"/>
</g>
<g filter="url(#bl07)">
<path d="M122.0 409.0 C124.0 407.0 127.8 407.2 130.0 408.0 C132.2 408.8 134.0 411.3 135.0 414.0 C136.0 416.7 136.3 421.0 136.0 424.0 C135.7 427.0 134.7 430.3 133.0 432.0 C131.3 433.7 128.2 434.3 126.0 434.0 C123.8 433.7 121.3 432.3 120.0 430.0 C118.7 427.7 117.7 423.5 118.0 420.0 C118.3 416.5 120.0 411.0 122.0 409.0Z" fill="#a2a2a2"/>
<path d="M120 414 Q128 416 135 413 M119 420 Q128 422 136 419 M119 426 Q128 428 135 425 M121 431 Q127 433 133 431" stroke="#6a6a6a" stroke-width="1.4" fill="none"/>
</g>
<defs><radialGradient id="yel" cx="0.5" cy="0.45" r="0.62"><stop offset="0" stop-color="#ffff10"/><stop offset="0.55" stop-color="#ffe800"/><stop offset="0.82" stop-color="#ffc400"/><stop offset="1" stop-color="#f09400"/></radialGradient></defs>
<g filter="url(#bl07)">
<path d="M179 338 C179 332 186 329 193 330 C200 331 205 336 207 343 C209 349 209 355 206 358 C202 359 199 354 196 350 C192 346 186 345 182 344 C180 343 179 341 179 338Z" fill="url(#yel)"/>
<circle cx="138" cy="357" r="1.8" fill="#e89a00"/><circle cx="141" cy="360" r="1.5" fill="#f0b000"/>
</g>
<text x="205.3" y="345" font-size="9.2" fill="#f4f4f4" style="fill:#f4f4f4;stroke:#f4f4f4;stroke-width:0.3px" textLength="21.5" lengthAdjust="spacingAndGlyphs">dACC</text></g><!--/brainC-->

<!-- bar chart -->
<text x="408.8" y="265.7" font-size="14.4" textLength="91" lengthAdjust="spacingAndGlyphs">Right AI to dACC</text>
<g stroke="#000" stroke-width="2">
<rect x="367.3" y="418.3" width="37.6" height="54.1" fill="#fff"/>
<rect x="411.4" y="327.4" width="37.6" height="145" fill="#777777"/>
<rect x="479.5" y="408.7" width="37.6" height="63.7" fill="#fff"/>
<rect x="524" y="401.6" width="37.6" height="70.8" fill="#777777"/>
<path d="M386 381.2 V456.7 M381.2 381.2 H390.8 M381.2 456.7 H390.8" fill="none"/>
<path d="M430 288 V368.4 M425.2 288 H434.8 M425.2 368.4 H434.8" fill="none"/>
<path d="M498.4 366.6 V451 M493.6 366.6 H503.2 M493.6 451 H503.2" fill="none"/>
<path d="M543.3 363.2 V440.5 M538.5 363.2 H548.1 M538.5 440.5 H548.1" fill="none"/>
<path d="M353.2 268.2 V472.5 H580" fill="none"/>
<path d="M354 268.2 H357.5 M354 309 H357.5 M354 350 H357.5 M354 390.7 H357.5 M354 431.6 H357.5" fill="none"/>
<rect x="529" y="270.1" width="26.9" height="13.3" fill="#fff"/>
<rect x="529" y="289.4" width="26.9" height="13.3" fill="#777777"/>
</g>
<g font-size="10.6">
<text x="343" y="272.7" text-anchor="end">2.5</text>
<text x="343" y="313.5" text-anchor="end">2</text>
<text x="343" y="355.1" text-anchor="end">1.5</text>
<text x="343" y="395.6" text-anchor="end">1</text>
<text x="343" y="437" text-anchor="end">0.5</text>
<text x="343" y="477.3" text-anchor="end">0</text>
</g>
<text x="395.7" y="486.6" font-size="11.2" textLength="19" lengthAdjust="spacingAndGlyphs">Man</text>
<text x="502.3" y="486.4" font-size="11.2" textLength="34.6" lengthAdjust="spacingAndGlyphs">Woman</text>
<text x="562.9" y="281" font-size="11" font-style="italic">lp</text>
<text x="562.9" y="300.2" font-size="11" font-style="italic" textLength="10.6" lengthAdjust="spacingAndGlyphs">hp</text>
<text transform="translate(321.5,408) rotate(-90)" font-size="11.8" textLength="79" lengthAdjust="spacingAndGlyphs">PPI at [−6 24 30]</text>
</svg>
</body></html>
